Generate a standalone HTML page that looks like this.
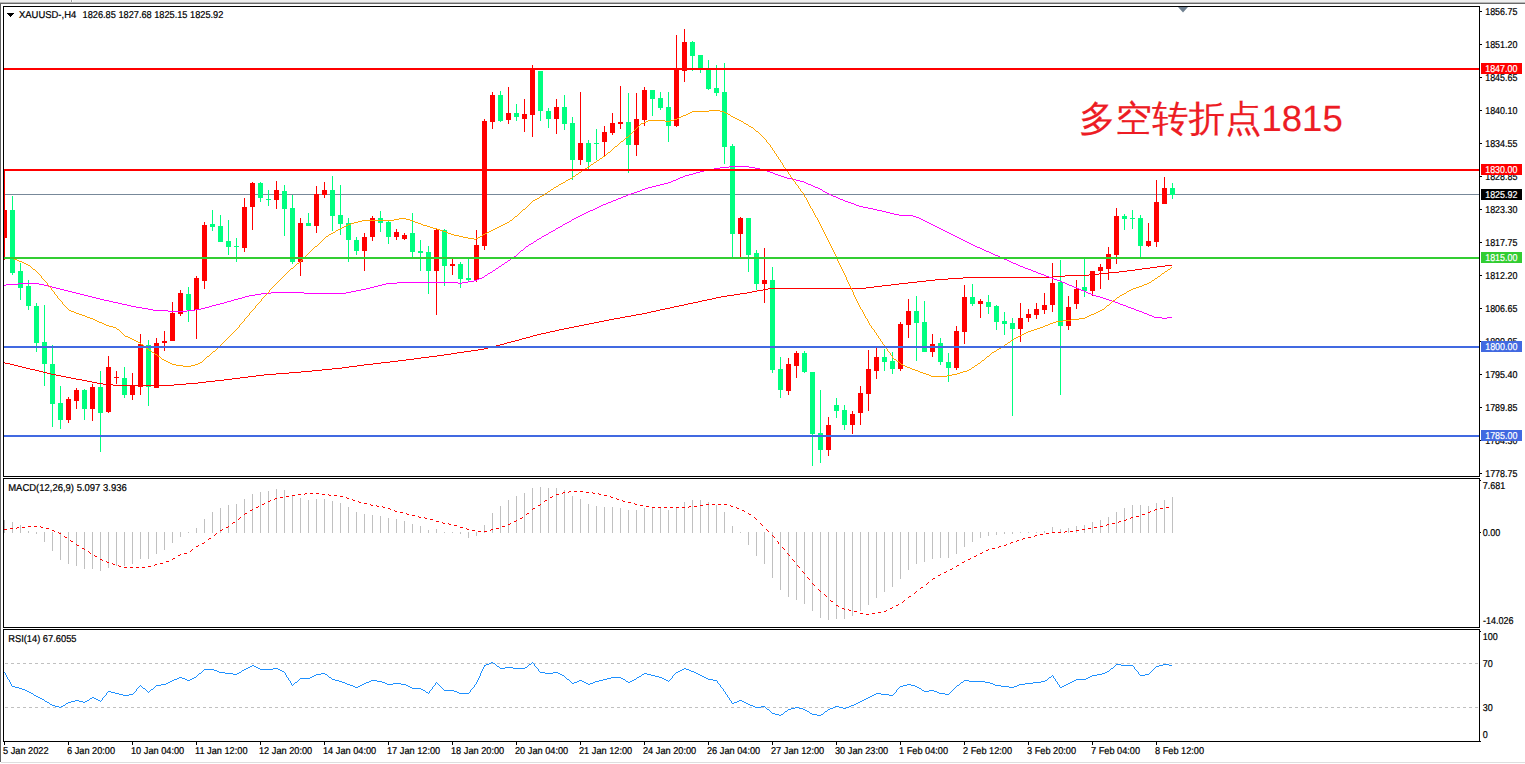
<!DOCTYPE html>
<html><head><meta charset="utf-8"><title>XAUUSD H4</title>
<style>
html,body{margin:0;padding:0;background:#fff;}
body{width:1525px;height:764px;overflow:hidden;font-family:"Liberation Sans",sans-serif;}
svg{display:block;font-family:"Liberation Sans",sans-serif;}
text{font-family:"Liberation Sans",sans-serif;}
</style></head><body>
<svg width="1525" height="764" viewBox="0 0 1525 764" shape-rendering="crispEdges">
<rect x="0" y="0" width="1525" height="764" fill="#fff"/>
<rect x="0" y="0" width="1525" height="2" fill="#f0f0f0"/>
<rect x="0" y="2" width="1525" height="1" fill="#b8b8b8"/>
<rect x="0" y="3" width="1525" height="1" fill="#696969"/>
<rect x="71" y="0" width="1" height="2" fill="#a0a0a0"/>
<rect x="72" y="0" width="1" height="2" fill="#ffffff"/>
<rect x="70" y="0" width="1" height="2" fill="#f8f8f8"/>
<rect x="0" y="4" width="1" height="758" fill="#626262"/>
<rect x="1" y="762" width="1525" height="1" fill="#dedede"/>
<rect x="4" y="194" width="1475" height="1" fill="#778899"/>
<g id="candles">
<rect x="4" y="171" width="1" height="89" fill="#ff0000"/>
<rect x="4" y="210" width="3" height="28" fill="#ff0000"/>
<rect x="12" y="196" width="1" height="79" fill="#00ff7f"/>
<rect x="10" y="210" width="5" height="63" fill="#00ff7f"/>
<rect x="20" y="263" width="1" height="37" fill="#00ff7f"/>
<rect x="18" y="271" width="5" height="17" fill="#00ff7f"/>
<rect x="28" y="280" width="1" height="30" fill="#00ff7f"/>
<rect x="26" y="286" width="5" height="20" fill="#00ff7f"/>
<rect x="36" y="303" width="1" height="49" fill="#00ff7f"/>
<rect x="34" y="306" width="5" height="37" fill="#00ff7f"/>
<rect x="44" y="305" width="1" height="81" fill="#00ff7f"/>
<rect x="42" y="342" width="5" height="22" fill="#00ff7f"/>
<rect x="52" y="345" width="1" height="82" fill="#00ff7f"/>
<rect x="50" y="364" width="5" height="40" fill="#00ff7f"/>
<rect x="60" y="386" width="1" height="43" fill="#00ff7f"/>
<rect x="58" y="403" width="5" height="17" fill="#00ff7f"/>
<rect x="68" y="397" width="1" height="26" fill="#ff0000"/>
<rect x="66" y="399" width="5" height="21" fill="#ff0000"/>
<rect x="76" y="388" width="1" height="21" fill="#ff0000"/>
<rect x="74" y="390" width="5" height="11" fill="#ff0000"/>
<rect x="84" y="389" width="1" height="31" fill="#00ff7f"/>
<rect x="82" y="390" width="5" height="19" fill="#00ff7f"/>
<rect x="92" y="384" width="1" height="37" fill="#ff0000"/>
<rect x="90" y="387" width="5" height="22" fill="#ff0000"/>
<rect x="100" y="371" width="1" height="81" fill="#00ff7f"/>
<rect x="98" y="387" width="5" height="26" fill="#00ff7f"/>
<rect x="108" y="356" width="1" height="57" fill="#ff0000"/>
<rect x="106" y="367" width="5" height="45" fill="#ff0000"/>
<rect x="116" y="371" width="1" height="13" fill="#ff0000"/>
<rect x="114" y="377" width="5" height="1" fill="#ff0000"/>
<rect x="124" y="367" width="1" height="31" fill="#00ff7f"/>
<rect x="122" y="378" width="5" height="17" fill="#00ff7f"/>
<rect x="132" y="373" width="1" height="27" fill="#ff0000"/>
<rect x="130" y="386" width="5" height="9" fill="#ff0000"/>
<rect x="140" y="334" width="1" height="61" fill="#ff0000"/>
<rect x="138" y="344" width="5" height="43" fill="#ff0000"/>
<rect x="148" y="340" width="1" height="66" fill="#00ff7f"/>
<rect x="146" y="345" width="5" height="42" fill="#00ff7f"/>
<rect x="156" y="338" width="1" height="50" fill="#ff0000"/>
<rect x="154" y="343" width="5" height="45" fill="#ff0000"/>
<rect x="164" y="331" width="1" height="20" fill="#ff0000"/>
<rect x="162" y="341" width="5" height="2" fill="#ff0000"/>
<rect x="172" y="302" width="1" height="39" fill="#ff0000"/>
<rect x="170" y="313" width="5" height="28" fill="#ff0000"/>
<rect x="180" y="290" width="1" height="26" fill="#ff0000"/>
<rect x="178" y="293" width="5" height="21" fill="#ff0000"/>
<rect x="188" y="287" width="1" height="35" fill="#00ff7f"/>
<rect x="186" y="294" width="5" height="16" fill="#00ff7f"/>
<rect x="196" y="276" width="1" height="63" fill="#ff0000"/>
<rect x="194" y="278" width="5" height="32" fill="#ff0000"/>
<rect x="204" y="222" width="1" height="67" fill="#ff0000"/>
<rect x="202" y="225" width="5" height="56" fill="#ff0000"/>
<rect x="212" y="210" width="1" height="21" fill="#00ff7f"/>
<rect x="210" y="224" width="5" height="3" fill="#00ff7f"/>
<rect x="220" y="215" width="1" height="27" fill="#00ff7f"/>
<rect x="218" y="226" width="5" height="16" fill="#00ff7f"/>
<rect x="228" y="220" width="1" height="35" fill="#00ff7f"/>
<rect x="226" y="241" width="5" height="6" fill="#00ff7f"/>
<rect x="236" y="238" width="1" height="24" fill="#00ff7f"/>
<rect x="234" y="246" width="5" height="1" fill="#00ff7f"/>
<rect x="244" y="198" width="1" height="54" fill="#ff0000"/>
<rect x="242" y="207" width="5" height="41" fill="#ff0000"/>
<rect x="252" y="182" width="1" height="48" fill="#ff0000"/>
<rect x="250" y="183" width="5" height="24" fill="#ff0000"/>
<rect x="260" y="182" width="1" height="20" fill="#00ff7f"/>
<rect x="258" y="183" width="5" height="15" fill="#00ff7f"/>
<rect x="268" y="190" width="1" height="16" fill="#00ff7f"/>
<rect x="266" y="199" width="5" height="1" fill="#00ff7f"/>
<rect x="276" y="181" width="1" height="28" fill="#ff0000"/>
<rect x="274" y="190" width="5" height="10" fill="#ff0000"/>
<rect x="284" y="185" width="1" height="51" fill="#00ff7f"/>
<rect x="282" y="191" width="5" height="18" fill="#00ff7f"/>
<rect x="292" y="195" width="1" height="69" fill="#00ff7f"/>
<rect x="290" y="208" width="5" height="54" fill="#00ff7f"/>
<rect x="300" y="218" width="1" height="58" fill="#ff0000"/>
<rect x="298" y="223" width="5" height="39" fill="#ff0000"/>
<rect x="308" y="213" width="1" height="13" fill="#00ff7f"/>
<rect x="306" y="223" width="5" height="3" fill="#00ff7f"/>
<rect x="316" y="186" width="1" height="47" fill="#ff0000"/>
<rect x="314" y="194" width="5" height="32" fill="#ff0000"/>
<rect x="324" y="182" width="1" height="16" fill="#ff0000"/>
<rect x="322" y="190" width="5" height="5" fill="#ff0000"/>
<rect x="332" y="176" width="1" height="55" fill="#00ff7f"/>
<rect x="330" y="190" width="5" height="26" fill="#00ff7f"/>
<rect x="340" y="185" width="1" height="50" fill="#00ff7f"/>
<rect x="338" y="215" width="5" height="9" fill="#00ff7f"/>
<rect x="348" y="218" width="1" height="44" fill="#00ff7f"/>
<rect x="346" y="223" width="5" height="17" fill="#00ff7f"/>
<rect x="356" y="237" width="1" height="18" fill="#00ff7f"/>
<rect x="354" y="240" width="5" height="11" fill="#00ff7f"/>
<rect x="364" y="233" width="1" height="38" fill="#ff0000"/>
<rect x="362" y="237" width="5" height="14" fill="#ff0000"/>
<rect x="372" y="216" width="1" height="25" fill="#ff0000"/>
<rect x="370" y="218" width="5" height="19" fill="#ff0000"/>
<rect x="380" y="211" width="1" height="21" fill="#00ff7f"/>
<rect x="378" y="218" width="5" height="5" fill="#00ff7f"/>
<rect x="388" y="221" width="1" height="23" fill="#00ff7f"/>
<rect x="386" y="222" width="5" height="15" fill="#00ff7f"/>
<rect x="396" y="229" width="1" height="11" fill="#ff0000"/>
<rect x="394" y="232" width="5" height="5" fill="#ff0000"/>
<rect x="404" y="233" width="1" height="7" fill="#ff0000"/>
<rect x="402" y="235" width="5" height="4" fill="#ff0000"/>
<rect x="412" y="213" width="1" height="44" fill="#00ff7f"/>
<rect x="410" y="233" width="5" height="19" fill="#00ff7f"/>
<rect x="420" y="240" width="1" height="31" fill="#00ff7f"/>
<rect x="418" y="251" width="5" height="2" fill="#00ff7f"/>
<rect x="428" y="246" width="1" height="48" fill="#00ff7f"/>
<rect x="426" y="252" width="5" height="19" fill="#00ff7f"/>
<rect x="436" y="229" width="1" height="86" fill="#ff0000"/>
<rect x="434" y="230" width="5" height="41" fill="#ff0000"/>
<rect x="444" y="229" width="1" height="57" fill="#00ff7f"/>
<rect x="442" y="230" width="5" height="36" fill="#00ff7f"/>
<rect x="452" y="259" width="1" height="16" fill="#ff0000"/>
<rect x="450" y="264" width="5" height="2" fill="#ff0000"/>
<rect x="460" y="262" width="1" height="26" fill="#00ff7f"/>
<rect x="458" y="264" width="5" height="15" fill="#00ff7f"/>
<rect x="468" y="259" width="1" height="23" fill="#00ff7f"/>
<rect x="466" y="278" width="5" height="2" fill="#00ff7f"/>
<rect x="476" y="230" width="1" height="52" fill="#ff0000"/>
<rect x="474" y="245" width="5" height="35" fill="#ff0000"/>
<rect x="484" y="119" width="1" height="131" fill="#ff0000"/>
<rect x="482" y="121" width="5" height="125" fill="#ff0000"/>
<rect x="492" y="92" width="1" height="37" fill="#ff0000"/>
<rect x="490" y="95" width="5" height="27" fill="#ff0000"/>
<rect x="500" y="91" width="1" height="31" fill="#00ff7f"/>
<rect x="498" y="95" width="5" height="26" fill="#00ff7f"/>
<rect x="508" y="87" width="1" height="37" fill="#ff0000"/>
<rect x="506" y="113" width="5" height="7" fill="#ff0000"/>
<rect x="516" y="104" width="1" height="17" fill="#00ff7f"/>
<rect x="514" y="113" width="5" height="4" fill="#00ff7f"/>
<rect x="524" y="99" width="1" height="33" fill="#ff0000"/>
<rect x="522" y="114" width="5" height="5" fill="#ff0000"/>
<rect x="532" y="65" width="1" height="72" fill="#ff0000"/>
<rect x="530" y="69" width="5" height="46" fill="#ff0000"/>
<rect x="540" y="71" width="1" height="50" fill="#00ff7f"/>
<rect x="538" y="71" width="5" height="40" fill="#00ff7f"/>
<rect x="548" y="108" width="1" height="20" fill="#00ff7f"/>
<rect x="546" y="111" width="5" height="8" fill="#00ff7f"/>
<rect x="556" y="99" width="1" height="35" fill="#ff0000"/>
<rect x="554" y="107" width="5" height="12" fill="#ff0000"/>
<rect x="564" y="95" width="1" height="35" fill="#00ff7f"/>
<rect x="562" y="107" width="5" height="17" fill="#00ff7f"/>
<rect x="572" y="117" width="1" height="63" fill="#00ff7f"/>
<rect x="570" y="123" width="5" height="37" fill="#00ff7f"/>
<rect x="580" y="92" width="1" height="73" fill="#ff0000"/>
<rect x="578" y="143" width="5" height="17" fill="#ff0000"/>
<rect x="588" y="140" width="1" height="29" fill="#00ff7f"/>
<rect x="586" y="143" width="5" height="19" fill="#00ff7f"/>
<rect x="596" y="129" width="1" height="31" fill="#00ff7f"/>
<rect x="594" y="143" width="5" height="1" fill="#00ff7f"/>
<rect x="604" y="126" width="1" height="30" fill="#ff0000"/>
<rect x="602" y="132" width="5" height="10" fill="#ff0000"/>
<rect x="612" y="113" width="1" height="22" fill="#ff0000"/>
<rect x="610" y="123" width="5" height="10" fill="#ff0000"/>
<rect x="620" y="86" width="1" height="43" fill="#ff0000"/>
<rect x="618" y="122" width="5" height="2" fill="#ff0000"/>
<rect x="628" y="93" width="1" height="80" fill="#00ff7f"/>
<rect x="626" y="122" width="5" height="23" fill="#00ff7f"/>
<rect x="636" y="93" width="1" height="63" fill="#ff0000"/>
<rect x="634" y="119" width="5" height="26" fill="#ff0000"/>
<rect x="644" y="87" width="1" height="39" fill="#ff0000"/>
<rect x="642" y="90" width="5" height="30" fill="#ff0000"/>
<rect x="652" y="90" width="1" height="26" fill="#00ff7f"/>
<rect x="650" y="90" width="5" height="9" fill="#00ff7f"/>
<rect x="660" y="92" width="1" height="18" fill="#00ff7f"/>
<rect x="658" y="98" width="5" height="10" fill="#00ff7f"/>
<rect x="668" y="92" width="1" height="50" fill="#00ff7f"/>
<rect x="666" y="107" width="5" height="19" fill="#00ff7f"/>
<rect x="676" y="35" width="1" height="92" fill="#ff0000"/>
<rect x="674" y="68" width="5" height="58" fill="#ff0000"/>
<rect x="684" y="29" width="1" height="53" fill="#ff0000"/>
<rect x="682" y="42" width="5" height="29" fill="#ff0000"/>
<rect x="692" y="41" width="1" height="30" fill="#00ff7f"/>
<rect x="690" y="42" width="5" height="14" fill="#00ff7f"/>
<rect x="700" y="55" width="1" height="18" fill="#00ff7f"/>
<rect x="698" y="55" width="5" height="15" fill="#00ff7f"/>
<rect x="708" y="60" width="1" height="30" fill="#00ff7f"/>
<rect x="706" y="70" width="5" height="19" fill="#00ff7f"/>
<rect x="716" y="65" width="1" height="31" fill="#00ff7f"/>
<rect x="714" y="88" width="5" height="5" fill="#00ff7f"/>
<rect x="724" y="63" width="1" height="101" fill="#00ff7f"/>
<rect x="722" y="92" width="5" height="55" fill="#00ff7f"/>
<rect x="732" y="144" width="1" height="113" fill="#00ff7f"/>
<rect x="730" y="146" width="5" height="88" fill="#00ff7f"/>
<rect x="740" y="217" width="1" height="40" fill="#ff0000"/>
<rect x="738" y="218" width="5" height="16" fill="#ff0000"/>
<rect x="748" y="218" width="1" height="54" fill="#00ff7f"/>
<rect x="746" y="218" width="5" height="37" fill="#00ff7f"/>
<rect x="756" y="250" width="1" height="40" fill="#00ff7f"/>
<rect x="754" y="253" width="5" height="31" fill="#00ff7f"/>
<rect x="764" y="248" width="1" height="55" fill="#ff0000"/>
<rect x="762" y="280" width="5" height="4" fill="#ff0000"/>
<rect x="772" y="267" width="1" height="106" fill="#00ff7f"/>
<rect x="770" y="280" width="5" height="90" fill="#00ff7f"/>
<rect x="780" y="357" width="1" height="41" fill="#00ff7f"/>
<rect x="778" y="369" width="5" height="21" fill="#00ff7f"/>
<rect x="788" y="358" width="1" height="37" fill="#ff0000"/>
<rect x="786" y="364" width="5" height="27" fill="#ff0000"/>
<rect x="796" y="351" width="1" height="27" fill="#ff0000"/>
<rect x="794" y="353" width="5" height="13" fill="#ff0000"/>
<rect x="804" y="351" width="1" height="22" fill="#00ff7f"/>
<rect x="802" y="353" width="5" height="19" fill="#00ff7f"/>
<rect x="812" y="372" width="1" height="94" fill="#00ff7f"/>
<rect x="810" y="372" width="5" height="62" fill="#00ff7f"/>
<rect x="820" y="390" width="1" height="73" fill="#00ff7f"/>
<rect x="818" y="433" width="5" height="17" fill="#00ff7f"/>
<rect x="828" y="417" width="1" height="39" fill="#ff0000"/>
<rect x="826" y="425" width="5" height="25" fill="#ff0000"/>
<rect x="836" y="398" width="1" height="20" fill="#00ff7f"/>
<rect x="834" y="405" width="5" height="6" fill="#00ff7f"/>
<rect x="844" y="405" width="1" height="25" fill="#00ff7f"/>
<rect x="842" y="410" width="5" height="15" fill="#00ff7f"/>
<rect x="852" y="411" width="1" height="23" fill="#ff0000"/>
<rect x="850" y="414" width="5" height="11" fill="#ff0000"/>
<rect x="860" y="386" width="1" height="39" fill="#ff0000"/>
<rect x="858" y="393" width="5" height="20" fill="#ff0000"/>
<rect x="868" y="350" width="1" height="61" fill="#ff0000"/>
<rect x="866" y="369" width="5" height="25" fill="#ff0000"/>
<rect x="876" y="348" width="1" height="31" fill="#ff0000"/>
<rect x="874" y="357" width="5" height="14" fill="#ff0000"/>
<rect x="884" y="349" width="1" height="22" fill="#00ff7f"/>
<rect x="882" y="357" width="5" height="5" fill="#00ff7f"/>
<rect x="892" y="352" width="1" height="22" fill="#00ff7f"/>
<rect x="890" y="361" width="5" height="8" fill="#00ff7f"/>
<rect x="900" y="322" width="1" height="49" fill="#ff0000"/>
<rect x="898" y="324" width="5" height="45" fill="#ff0000"/>
<rect x="908" y="299" width="1" height="39" fill="#ff0000"/>
<rect x="906" y="311" width="5" height="14" fill="#ff0000"/>
<rect x="916" y="296" width="1" height="65" fill="#00ff7f"/>
<rect x="914" y="311" width="5" height="12" fill="#00ff7f"/>
<rect x="924" y="301" width="1" height="51" fill="#00ff7f"/>
<rect x="922" y="322" width="5" height="30" fill="#00ff7f"/>
<rect x="932" y="334" width="1" height="23" fill="#ff0000"/>
<rect x="930" y="344" width="5" height="8" fill="#ff0000"/>
<rect x="940" y="338" width="1" height="27" fill="#00ff7f"/>
<rect x="938" y="343" width="5" height="19" fill="#00ff7f"/>
<rect x="948" y="353" width="1" height="29" fill="#00ff7f"/>
<rect x="946" y="362" width="5" height="6" fill="#00ff7f"/>
<rect x="956" y="326" width="1" height="44" fill="#ff0000"/>
<rect x="954" y="331" width="5" height="37" fill="#ff0000"/>
<rect x="964" y="285" width="1" height="59" fill="#ff0000"/>
<rect x="962" y="297" width="5" height="35" fill="#ff0000"/>
<rect x="972" y="284" width="1" height="22" fill="#00ff7f"/>
<rect x="970" y="297" width="5" height="7" fill="#00ff7f"/>
<rect x="980" y="299" width="1" height="19" fill="#ff0000"/>
<rect x="978" y="301" width="5" height="3" fill="#ff0000"/>
<rect x="988" y="295" width="1" height="19" fill="#00ff7f"/>
<rect x="986" y="302" width="5" height="5" fill="#00ff7f"/>
<rect x="996" y="305" width="1" height="25" fill="#00ff7f"/>
<rect x="994" y="306" width="5" height="16" fill="#00ff7f"/>
<rect x="1004" y="312" width="1" height="23" fill="#00ff7f"/>
<rect x="1002" y="321" width="5" height="3" fill="#00ff7f"/>
<rect x="1012" y="318" width="1" height="98" fill="#00ff7f"/>
<rect x="1010" y="323" width="5" height="6" fill="#00ff7f"/>
<rect x="1020" y="303" width="1" height="39" fill="#ff0000"/>
<rect x="1018" y="318" width="5" height="11" fill="#ff0000"/>
<rect x="1028" y="309" width="1" height="13" fill="#ff0000"/>
<rect x="1026" y="314" width="5" height="4" fill="#ff0000"/>
<rect x="1036" y="303" width="1" height="16" fill="#ff0000"/>
<rect x="1034" y="309" width="5" height="6" fill="#ff0000"/>
<rect x="1044" y="293" width="1" height="21" fill="#ff0000"/>
<rect x="1042" y="305" width="5" height="5" fill="#ff0000"/>
<rect x="1052" y="263" width="1" height="49" fill="#ff0000"/>
<rect x="1050" y="283" width="5" height="22" fill="#ff0000"/>
<rect x="1060" y="260" width="1" height="135" fill="#00ff7f"/>
<rect x="1058" y="282" width="5" height="44" fill="#00ff7f"/>
<rect x="1068" y="296" width="1" height="34" fill="#ff0000"/>
<rect x="1066" y="307" width="5" height="19" fill="#ff0000"/>
<rect x="1076" y="280" width="1" height="29" fill="#ff0000"/>
<rect x="1074" y="289" width="5" height="15" fill="#ff0000"/>
<rect x="1084" y="259" width="1" height="38" fill="#00ff7f"/>
<rect x="1082" y="287" width="5" height="4" fill="#00ff7f"/>
<rect x="1092" y="271" width="1" height="25" fill="#ff0000"/>
<rect x="1090" y="271" width="5" height="20" fill="#ff0000"/>
<rect x="1100" y="264" width="1" height="25" fill="#ff0000"/>
<rect x="1098" y="267" width="5" height="4" fill="#ff0000"/>
<rect x="1108" y="247" width="1" height="33" fill="#ff0000"/>
<rect x="1106" y="254" width="5" height="15" fill="#ff0000"/>
<rect x="1116" y="208" width="1" height="56" fill="#ff0000"/>
<rect x="1114" y="216" width="5" height="39" fill="#ff0000"/>
<rect x="1124" y="214" width="1" height="16" fill="#00ff7f"/>
<rect x="1122" y="216" width="5" height="3" fill="#00ff7f"/>
<rect x="1132" y="210" width="1" height="19" fill="#00ff7f"/>
<rect x="1130" y="218" width="5" height="1" fill="#00ff7f"/>
<rect x="1140" y="215" width="1" height="42" fill="#00ff7f"/>
<rect x="1138" y="218" width="5" height="28" fill="#00ff7f"/>
<rect x="1148" y="223" width="1" height="24" fill="#ff0000"/>
<rect x="1146" y="241" width="5" height="5" fill="#ff0000"/>
<rect x="1156" y="180" width="1" height="67" fill="#ff0000"/>
<rect x="1154" y="202" width="5" height="40" fill="#ff0000"/>
<rect x="1164" y="177" width="1" height="27" fill="#ff0000"/>
<rect x="1162" y="188" width="5" height="16" fill="#ff0000"/>
<rect x="1172" y="183" width="1" height="16" fill="#00ff7f"/>
<rect x="1170" y="188" width="5" height="7" fill="#00ff7f"/>
</g>
<path d="M4 362h1v1h-1zM5 363h1v1h-1zM6 363h1v1h-1zM7 363h1v1h-1zM8 363h1v1h-1zM9 363h1v1h-1zM10 364h1v1h-1zM11 364h1v1h-1zM12 364h1v1h-1zM13 364h1v1h-1zM14 365h1v1h-1zM15 365h1v1h-1zM16 365h1v1h-1zM17 365h1v1h-1zM18 366h1v1h-1zM19 366h1v1h-1zM20 366h1v1h-1zM21 366h1v1h-1zM22 367h1v1h-1zM23 367h1v1h-1zM24 367h1v1h-1zM25 367h1v1h-1zM26 368h1v1h-1zM27 368h1v1h-1zM28 368h1v1h-1zM29 368h1v1h-1zM30 369h1v1h-1zM31 369h1v1h-1zM32 369h1v1h-1zM33 369h1v1h-1zM34 369h1v1h-1zM35 370h1v1h-1zM36 370h1v1h-1zM37 370h1v1h-1zM38 370h1v1h-1zM39 371h1v1h-1zM40 371h1v1h-1zM41 371h1v1h-1zM42 371h1v1h-1zM43 372h1v1h-1zM44 372h1v1h-1zM45 372h1v1h-1zM46 372h1v1h-1zM47 373h1v1h-1zM48 373h1v1h-1zM49 373h1v1h-1zM50 373h1v1h-1zM51 374h1v1h-1zM52 374h1v1h-1zM53 374h1v1h-1zM54 374h1v1h-1zM55 374h1v1h-1zM56 375h1v1h-1zM57 375h1v1h-1zM58 375h1v1h-1zM59 375h1v1h-1zM60 375h1v1h-1zM61 376h1v1h-1zM62 376h1v1h-1zM63 376h1v1h-1zM64 376h1v1h-1zM65 376h1v1h-1zM66 377h1v1h-1zM67 377h1v1h-1zM68 377h1v1h-1zM69 377h1v1h-1zM70 377h1v1h-1zM71 378h1v1h-1zM72 378h1v1h-1zM73 378h1v1h-1zM74 378h1v1h-1zM75 378h1v1h-1zM76 379h1v1h-1zM77 379h1v1h-1zM78 379h1v1h-1zM79 379h1v1h-1zM80 379h1v1h-1zM81 379h1v1h-1zM82 380h1v1h-1zM83 380h1v1h-1zM84 380h1v1h-1zM85 380h1v1h-1zM86 380h1v1h-1zM87 381h1v1h-1zM88 381h1v1h-1zM89 381h1v1h-1zM90 381h1v1h-1zM91 381h1v1h-1zM92 382h1v1h-1zM93 382h1v1h-1zM94 382h1v1h-1zM95 382h1v1h-1zM96 382h1v1h-1zM97 383h1v1h-1zM98 383h1v1h-1zM99 383h1v1h-1zM100 383h1v1h-1zM101 383h1v1h-1zM102 383h1v1h-1zM103 384h1v1h-1zM104 384h1v1h-1zM105 384h1v1h-1zM106 384h1v1h-1zM107 384h1v1h-1zM108 384h1v1h-1zM109 384h1v1h-1zM110 384h1v1h-1zM111 384h1v1h-1zM112 384h1v1h-1zM113 385h1v1h-1zM114 385h1v1h-1zM115 385h1v1h-1zM116 385h1v1h-1zM117 385h1v1h-1zM118 385h1v1h-1zM119 385h1v1h-1zM120 385h1v1h-1zM121 385h1v1h-1zM122 385h1v1h-1zM123 385h1v1h-1zM124 385h1v1h-1zM125 385h1v1h-1zM126 385h1v1h-1zM127 385h1v1h-1zM128 385h1v1h-1zM129 385h1v1h-1zM130 385h1v1h-1zM131 385h1v1h-1zM132 385h1v1h-1zM133 385h1v1h-1zM134 385h1v1h-1zM135 385h1v1h-1zM136 385h1v1h-1zM137 385h1v1h-1zM138 385h1v1h-1zM139 385h1v1h-1zM140 385h1v1h-1zM141 385h1v1h-1zM142 385h1v1h-1zM143 385h1v1h-1zM144 385h1v1h-1zM145 385h1v1h-1zM146 385h1v1h-1zM147 385h1v1h-1zM148 385h1v1h-1zM149 385h1v1h-1zM150 385h1v1h-1zM151 385h1v1h-1zM152 385h1v1h-1zM153 385h1v1h-1zM154 385h1v1h-1zM155 385h1v1h-1zM156 385h1v1h-1zM157 385h1v1h-1zM158 385h1v1h-1zM159 385h1v1h-1zM160 385h1v1h-1zM161 385h1v1h-1zM162 385h1v1h-1zM163 385h1v1h-1zM164 385h1v1h-1zM165 385h1v1h-1zM166 385h1v1h-1zM167 385h1v1h-1zM168 385h1v1h-1zM169 385h1v1h-1zM170 385h1v1h-1zM171 385h1v1h-1zM172 385h1v1h-1zM173 385h1v1h-1zM174 384h1v1h-1zM175 384h1v1h-1zM176 384h1v1h-1zM177 384h1v1h-1zM178 384h1v1h-1zM179 384h1v1h-1zM180 384h1v1h-1zM181 384h1v1h-1zM182 384h1v1h-1zM183 384h1v1h-1zM184 384h1v1h-1zM185 384h1v1h-1zM186 383h1v1h-1zM187 383h1v1h-1zM188 383h1v1h-1zM189 383h1v1h-1zM190 383h1v1h-1zM191 383h1v1h-1zM192 383h1v1h-1zM193 383h1v1h-1zM194 383h1v1h-1zM195 383h1v1h-1zM196 383h1v1h-1zM197 383h1v1h-1zM198 382h1v1h-1zM199 382h1v1h-1zM200 382h1v1h-1zM201 382h1v1h-1zM202 382h1v1h-1zM203 382h1v1h-1zM204 382h1v1h-1zM205 382h1v1h-1zM206 381h1v1h-1zM207 381h1v1h-1zM208 381h1v1h-1zM209 381h1v1h-1zM210 381h1v1h-1zM211 381h1v1h-1zM212 381h1v1h-1zM213 381h1v1h-1zM214 381h1v1h-1zM215 380h1v1h-1zM216 380h1v1h-1zM217 380h1v1h-1zM218 380h1v1h-1zM219 380h1v1h-1zM220 380h1v1h-1zM221 380h1v1h-1zM222 380h1v1h-1zM223 380h1v1h-1zM224 379h1v1h-1zM225 379h1v1h-1zM226 379h1v1h-1zM227 379h1v1h-1zM228 379h1v1h-1zM229 379h1v1h-1zM230 379h1v1h-1zM231 379h1v1h-1zM232 378h1v1h-1zM233 378h1v1h-1zM234 378h1v1h-1zM235 378h1v1h-1zM236 378h1v1h-1zM237 378h1v1h-1zM238 378h1v1h-1zM239 378h1v1h-1zM240 377h1v1h-1zM241 377h1v1h-1zM242 377h1v1h-1zM243 377h1v1h-1zM244 377h1v1h-1zM245 377h1v1h-1zM246 377h1v1h-1zM247 377h1v1h-1zM248 376h1v1h-1zM249 376h1v1h-1zM250 376h1v1h-1zM251 376h1v1h-1zM252 376h1v1h-1zM253 376h1v1h-1zM254 376h1v1h-1zM255 376h1v1h-1zM256 375h1v1h-1zM257 375h1v1h-1zM258 375h1v1h-1zM259 375h1v1h-1zM260 375h1v1h-1zM261 375h1v1h-1zM262 375h1v1h-1zM263 375h1v1h-1zM264 374h1v1h-1zM265 374h1v1h-1zM266 374h1v1h-1zM267 374h1v1h-1zM268 374h1v1h-1zM269 374h1v1h-1zM270 374h1v1h-1zM271 374h1v1h-1zM272 374h1v1h-1zM273 374h1v1h-1zM274 374h1v1h-1zM275 374h1v1h-1zM276 373h1v1h-1zM277 373h1v1h-1zM278 373h1v1h-1zM279 373h1v1h-1zM280 373h1v1h-1zM281 373h1v1h-1zM282 373h1v1h-1zM283 373h1v1h-1zM284 373h1v1h-1zM285 373h1v1h-1zM286 373h1v1h-1zM287 373h1v1h-1zM288 373h1v1h-1zM289 372h1v1h-1zM290 372h1v1h-1zM291 372h1v1h-1zM292 372h1v1h-1zM293 372h1v1h-1zM294 372h1v1h-1zM295 372h1v1h-1zM296 372h1v1h-1zM297 372h1v1h-1zM298 372h1v1h-1zM299 372h1v1h-1zM300 372h1v1h-1zM301 371h1v1h-1zM302 371h1v1h-1zM303 371h1v1h-1zM304 371h1v1h-1zM305 371h1v1h-1zM306 371h1v1h-1zM307 371h1v1h-1zM308 371h1v1h-1zM309 371h1v1h-1zM310 371h1v1h-1zM311 371h1v1h-1zM312 370h1v1h-1zM313 370h1v1h-1zM314 370h1v1h-1zM315 370h1v1h-1zM316 370h1v1h-1zM317 370h1v1h-1zM318 370h1v1h-1zM319 370h1v1h-1zM320 370h1v1h-1zM321 370h1v1h-1zM322 369h1v1h-1zM323 369h1v1h-1zM324 369h1v1h-1zM325 369h1v1h-1zM326 369h1v1h-1zM327 369h1v1h-1zM328 369h1v1h-1zM329 369h1v1h-1zM330 369h1v1h-1zM331 369h1v1h-1zM332 368h1v1h-1zM333 368h1v1h-1zM334 368h1v1h-1zM335 368h1v1h-1zM336 368h1v1h-1zM337 368h1v1h-1zM338 368h1v1h-1zM339 368h1v1h-1zM340 368h1v1h-1zM341 368h1v1h-1zM342 367h1v1h-1zM343 367h1v1h-1zM344 367h1v1h-1zM345 367h1v1h-1zM346 367h1v1h-1zM347 367h1v1h-1zM348 367h1v1h-1zM349 366h1v1h-1zM350 366h1v1h-1zM351 366h1v1h-1zM352 366h1v1h-1zM353 366h1v1h-1zM354 366h1v1h-1zM355 366h1v1h-1zM356 366h1v1h-1zM357 365h1v1h-1zM358 365h1v1h-1zM359 365h1v1h-1zM360 365h1v1h-1zM361 365h1v1h-1zM362 365h1v1h-1zM363 365h1v1h-1zM364 364h1v1h-1zM365 364h1v1h-1zM366 364h1v1h-1zM367 364h1v1h-1zM368 364h1v1h-1zM369 364h1v1h-1zM370 364h1v1h-1zM371 364h1v1h-1zM372 364h1v1h-1zM373 363h1v1h-1zM374 363h1v1h-1zM375 363h1v1h-1zM376 363h1v1h-1zM377 363h1v1h-1zM378 363h1v1h-1zM379 363h1v1h-1zM380 363h1v1h-1zM381 362h1v1h-1zM382 362h1v1h-1zM383 362h1v1h-1zM384 362h1v1h-1zM385 362h1v1h-1zM386 362h1v1h-1zM387 362h1v1h-1zM388 362h1v1h-1zM389 362h1v1h-1zM390 361h1v1h-1zM391 361h1v1h-1zM392 361h1v1h-1zM393 361h1v1h-1zM394 361h1v1h-1zM395 361h1v1h-1zM396 361h1v1h-1zM397 361h1v1h-1zM398 360h1v1h-1zM399 360h1v1h-1zM400 360h1v1h-1zM401 360h1v1h-1zM402 360h1v1h-1zM403 360h1v1h-1zM404 360h1v1h-1zM405 360h1v1h-1zM406 359h1v1h-1zM407 359h1v1h-1zM408 359h1v1h-1zM409 359h1v1h-1zM410 359h1v1h-1zM411 359h1v1h-1zM412 359h1v1h-1zM413 359h1v1h-1zM414 358h1v1h-1zM415 358h1v1h-1zM416 358h1v1h-1zM417 358h1v1h-1zM418 358h1v1h-1zM419 358h1v1h-1zM420 358h1v1h-1zM421 357h1v1h-1zM422 357h1v1h-1zM423 357h1v1h-1zM424 357h1v1h-1zM425 357h1v1h-1zM426 357h1v1h-1zM427 357h1v1h-1zM428 357h1v1h-1zM429 356h1v1h-1zM430 356h1v1h-1zM431 356h1v1h-1zM432 356h1v1h-1zM433 356h1v1h-1zM434 356h1v1h-1zM435 356h1v1h-1zM436 356h1v1h-1zM437 355h1v1h-1zM438 355h1v1h-1zM439 355h1v1h-1zM440 355h1v1h-1zM441 355h1v1h-1zM442 355h1v1h-1zM443 355h1v1h-1zM444 354h1v1h-1zM445 354h1v1h-1zM446 354h1v1h-1zM447 354h1v1h-1zM448 354h1v1h-1zM449 354h1v1h-1zM450 354h1v1h-1zM451 353h1v1h-1zM452 353h1v1h-1zM453 353h1v1h-1zM454 353h1v1h-1zM455 353h1v1h-1zM456 353h1v1h-1zM457 352h1v1h-1zM458 352h1v1h-1zM459 352h1v1h-1zM460 352h1v1h-1zM461 352h1v1h-1zM462 352h1v1h-1zM463 352h1v1h-1zM464 351h1v1h-1zM465 351h1v1h-1zM466 351h1v1h-1zM467 351h1v1h-1zM468 351h1v1h-1zM469 351h1v1h-1zM470 351h1v1h-1zM471 350h1v1h-1zM472 350h1v1h-1zM473 350h1v1h-1zM474 350h1v1h-1zM475 350h1v1h-1zM476 350h1v1h-1zM477 350h1v1h-1zM478 349h1v1h-1zM479 349h1v1h-1zM480 349h1v1h-1zM481 349h1v1h-1zM482 349h1v1h-1zM483 349h1v1h-1zM484 348h1v1h-1zM485 348h1v1h-1zM486 348h1v1h-1zM487 348h1v1h-1zM488 347h1v1h-1zM489 347h1v1h-1zM490 347h1v1h-1zM491 347h1v1h-1zM492 346h1v1h-1zM493 346h1v1h-1zM494 346h1v1h-1zM495 346h1v1h-1zM496 345h1v1h-1zM497 345h1v1h-1zM498 345h1v1h-1zM499 345h1v1h-1zM500 344h1v1h-1zM501 344h1v1h-1zM502 344h1v1h-1zM503 344h1v1h-1zM504 343h1v1h-1zM505 343h1v1h-1zM506 343h1v1h-1zM507 342h1v1h-1zM508 342h1v1h-1zM509 342h1v1h-1zM510 342h1v1h-1zM511 341h1v1h-1zM512 341h1v1h-1zM513 341h1v1h-1zM514 341h1v1h-1zM515 340h1v1h-1zM516 340h1v1h-1zM517 340h1v1h-1zM518 340h1v1h-1zM519 339h1v1h-1zM520 339h1v1h-1zM521 339h1v1h-1zM522 338h1v1h-1zM523 338h1v1h-1zM524 338h1v1h-1zM525 338h1v1h-1zM526 337h1v1h-1zM527 337h1v1h-1zM528 337h1v1h-1zM529 337h1v1h-1zM530 336h1v1h-1zM531 336h1v1h-1zM532 336h1v1h-1zM533 335h1v1h-1zM534 335h1v1h-1zM535 335h1v1h-1zM536 335h1v1h-1zM537 334h1v1h-1zM538 334h1v1h-1zM539 334h1v1h-1zM540 334h1v1h-1zM541 333h1v1h-1zM542 333h1v1h-1zM543 333h1v1h-1zM544 333h1v1h-1zM545 333h1v1h-1zM546 332h1v1h-1zM547 332h1v1h-1zM548 332h1v1h-1zM549 332h1v1h-1zM550 331h1v1h-1zM551 331h1v1h-1zM552 331h1v1h-1zM553 331h1v1h-1zM554 331h1v1h-1zM555 330h1v1h-1zM556 330h1v1h-1zM557 330h1v1h-1zM558 330h1v1h-1zM559 329h1v1h-1zM560 329h1v1h-1zM561 329h1v1h-1zM562 329h1v1h-1zM563 329h1v1h-1zM564 328h1v1h-1zM565 328h1v1h-1zM566 328h1v1h-1zM567 328h1v1h-1zM568 328h1v1h-1zM569 327h1v1h-1zM570 327h1v1h-1zM571 327h1v1h-1zM572 327h1v1h-1zM573 327h1v1h-1zM574 326h1v1h-1zM575 326h1v1h-1zM576 326h1v1h-1zM577 326h1v1h-1zM578 326h1v1h-1zM579 325h1v1h-1zM580 325h1v1h-1zM581 325h1v1h-1zM582 325h1v1h-1zM583 325h1v1h-1zM584 324h1v1h-1zM585 324h1v1h-1zM586 324h1v1h-1zM587 324h1v1h-1zM588 324h1v1h-1zM589 323h1v1h-1zM590 323h1v1h-1zM591 323h1v1h-1zM592 323h1v1h-1zM593 323h1v1h-1zM594 322h1v1h-1zM595 322h1v1h-1zM596 322h1v1h-1zM597 322h1v1h-1zM598 322h1v1h-1zM599 321h1v1h-1zM600 321h1v1h-1zM601 321h1v1h-1zM602 321h1v1h-1zM603 321h1v1h-1zM604 320h1v1h-1zM605 320h1v1h-1zM606 320h1v1h-1zM607 320h1v1h-1zM608 320h1v1h-1zM609 319h1v1h-1zM610 319h1v1h-1zM611 319h1v1h-1zM612 319h1v1h-1zM613 319h1v1h-1zM614 318h1v1h-1zM615 318h1v1h-1zM616 318h1v1h-1zM617 318h1v1h-1zM618 318h1v1h-1zM619 318h1v1h-1zM620 317h1v1h-1zM621 317h1v1h-1zM622 317h1v1h-1zM623 317h1v1h-1zM624 317h1v1h-1zM625 316h1v1h-1zM626 316h1v1h-1zM627 316h1v1h-1zM628 316h1v1h-1zM629 316h1v1h-1zM630 316h1v1h-1zM631 315h1v1h-1zM632 315h1v1h-1zM633 315h1v1h-1zM634 315h1v1h-1zM635 315h1v1h-1zM636 314h1v1h-1zM637 314h1v1h-1zM638 314h1v1h-1zM639 314h1v1h-1zM640 314h1v1h-1zM641 314h1v1h-1zM642 313h1v1h-1zM643 313h1v1h-1zM644 313h1v1h-1zM645 313h1v1h-1zM646 313h1v1h-1zM647 312h1v1h-1zM648 312h1v1h-1zM649 312h1v1h-1zM650 312h1v1h-1zM651 311h1v1h-1zM652 311h1v1h-1zM653 311h1v1h-1zM654 311h1v1h-1zM655 311h1v1h-1zM656 310h1v1h-1zM657 310h1v1h-1zM658 310h1v1h-1zM659 310h1v1h-1zM660 309h1v1h-1zM661 309h1v1h-1zM662 309h1v1h-1zM663 309h1v1h-1zM664 309h1v1h-1zM665 308h1v1h-1zM666 308h1v1h-1zM667 308h1v1h-1zM668 308h1v1h-1zM669 308h1v1h-1zM670 307h1v1h-1zM671 307h1v1h-1zM672 307h1v1h-1zM673 307h1v1h-1zM674 306h1v1h-1zM675 306h1v1h-1zM676 306h1v1h-1zM677 306h1v1h-1zM678 306h1v1h-1zM679 305h1v1h-1zM680 305h1v1h-1zM681 305h1v1h-1zM682 305h1v1h-1zM683 305h1v1h-1zM684 304h1v1h-1zM685 304h1v1h-1zM686 304h1v1h-1zM687 304h1v1h-1zM688 303h1v1h-1zM689 303h1v1h-1zM690 303h1v1h-1zM691 303h1v1h-1zM692 303h1v1h-1zM693 302h1v1h-1zM694 302h1v1h-1zM695 302h1v1h-1zM696 302h1v1h-1zM697 302h1v1h-1zM698 301h1v1h-1zM699 301h1v1h-1zM700 301h1v1h-1zM701 301h1v1h-1zM702 300h1v1h-1zM703 300h1v1h-1zM704 300h1v1h-1zM705 300h1v1h-1zM706 300h1v1h-1zM707 299h1v1h-1zM708 299h1v1h-1zM709 299h1v1h-1zM710 299h1v1h-1zM711 299h1v1h-1zM712 298h1v1h-1zM713 298h1v1h-1zM714 298h1v1h-1zM715 298h1v1h-1zM716 297h1v1h-1zM717 297h1v1h-1zM718 297h1v1h-1zM719 297h1v1h-1zM720 297h1v1h-1zM721 296h1v1h-1zM722 296h1v1h-1zM723 296h1v1h-1zM724 296h1v1h-1zM725 296h1v1h-1zM726 296h1v1h-1zM727 295h1v1h-1zM728 295h1v1h-1zM729 295h1v1h-1zM730 295h1v1h-1zM731 295h1v1h-1zM732 295h1v1h-1zM733 295h1v1h-1zM734 294h1v1h-1zM735 294h1v1h-1zM736 294h1v1h-1zM737 294h1v1h-1zM738 294h1v1h-1zM739 294h1v1h-1zM740 293h1v1h-1zM741 293h1v1h-1zM742 293h1v1h-1zM743 293h1v1h-1zM744 293h1v1h-1zM745 293h1v1h-1zM746 293h1v1h-1zM747 292h1v1h-1zM748 292h1v1h-1zM749 292h1v1h-1zM750 292h1v1h-1zM751 292h1v1h-1zM752 291h1v1h-1zM753 291h1v1h-1zM754 291h1v1h-1zM755 291h1v1h-1zM756 291h1v1h-1zM757 290h1v1h-1zM758 290h1v1h-1zM759 290h1v1h-1zM760 290h1v1h-1zM761 290h1v1h-1zM762 290h1v1h-1zM763 289h1v1h-1zM764 289h1v1h-1zM765 289h1v1h-1zM766 289h1v1h-1zM767 289h1v1h-1zM768 288h1v1h-1zM769 288h1v1h-1zM770 288h1v1h-1zM771 288h1v1h-1zM772 288h1v1h-1zM773 288h1v1h-1zM774 288h1v1h-1zM775 288h1v1h-1zM776 288h1v1h-1zM777 288h1v1h-1zM778 288h1v1h-1zM779 288h1v1h-1zM780 288h1v1h-1zM781 288h1v1h-1zM782 288h1v1h-1zM783 288h1v1h-1zM784 288h1v1h-1zM785 288h1v1h-1zM786 288h1v1h-1zM787 288h1v1h-1zM788 288h1v1h-1zM789 288h1v1h-1zM790 288h1v1h-1zM791 288h1v1h-1zM792 288h1v1h-1zM793 288h1v1h-1zM794 288h1v1h-1zM795 288h1v1h-1zM796 288h1v1h-1zM797 288h1v1h-1zM798 288h1v1h-1zM799 288h1v1h-1zM800 288h1v1h-1zM801 288h1v1h-1zM802 288h1v1h-1zM803 288h1v1h-1zM804 288h1v1h-1zM805 288h1v1h-1zM806 288h1v1h-1zM807 288h1v1h-1zM808 288h1v1h-1zM809 288h1v1h-1zM810 288h1v1h-1zM811 288h1v1h-1zM812 288h1v1h-1zM813 288h1v1h-1zM814 288h1v1h-1zM815 288h1v1h-1zM816 288h1v1h-1zM817 288h1v1h-1zM818 288h1v1h-1zM819 288h1v1h-1zM820 288h1v1h-1zM821 288h1v1h-1zM822 288h1v1h-1zM823 288h1v1h-1zM824 288h1v1h-1zM825 288h1v1h-1zM826 288h1v1h-1zM827 288h1v1h-1zM828 288h1v1h-1zM829 288h1v1h-1zM830 288h1v1h-1zM831 288h1v1h-1zM832 288h1v1h-1zM833 288h1v1h-1zM834 288h1v1h-1zM835 288h1v1h-1zM836 288h1v1h-1zM837 288h1v1h-1zM838 288h1v1h-1zM839 288h1v1h-1zM840 288h1v1h-1zM841 288h1v1h-1zM842 288h1v1h-1zM843 288h1v1h-1zM844 288h1v1h-1zM845 288h1v1h-1zM846 288h1v1h-1zM847 288h1v1h-1zM848 288h1v1h-1zM849 288h1v1h-1zM850 288h1v1h-1zM851 288h1v1h-1zM852 288h1v1h-1zM853 288h1v1h-1zM854 288h1v1h-1zM855 288h1v1h-1zM856 288h1v1h-1zM857 288h1v1h-1zM858 288h1v1h-1zM859 288h1v1h-1zM860 288h1v1h-1zM861 288h1v1h-1zM862 288h1v1h-1zM863 288h1v1h-1zM864 288h1v1h-1zM865 288h1v1h-1zM866 287h1v1h-1zM867 287h1v1h-1zM868 287h1v1h-1zM869 287h1v1h-1zM870 287h1v1h-1zM871 287h1v1h-1zM872 287h1v1h-1zM873 287h1v1h-1zM874 286h1v1h-1zM875 286h1v1h-1zM876 286h1v1h-1zM877 286h1v1h-1zM878 286h1v1h-1zM879 286h1v1h-1zM880 286h1v1h-1zM881 286h1v1h-1zM882 285h1v1h-1zM883 285h1v1h-1zM884 285h1v1h-1zM885 285h1v1h-1zM886 285h1v1h-1zM887 285h1v1h-1zM888 285h1v1h-1zM889 285h1v1h-1zM890 285h1v1h-1zM891 284h1v1h-1zM892 284h1v1h-1zM893 284h1v1h-1zM894 284h1v1h-1zM895 284h1v1h-1zM896 284h1v1h-1zM897 284h1v1h-1zM898 284h1v1h-1zM899 283h1v1h-1zM900 283h1v1h-1zM901 283h1v1h-1zM902 283h1v1h-1zM903 283h1v1h-1zM904 283h1v1h-1zM905 283h1v1h-1zM906 283h1v1h-1zM907 283h1v1h-1zM908 282h1v1h-1zM909 282h1v1h-1zM910 282h1v1h-1zM911 282h1v1h-1zM912 282h1v1h-1zM913 282h1v1h-1zM914 282h1v1h-1zM915 282h1v1h-1zM916 282h1v1h-1zM917 281h1v1h-1zM918 281h1v1h-1zM919 281h1v1h-1zM920 281h1v1h-1zM921 281h1v1h-1zM922 281h1v1h-1zM923 281h1v1h-1zM924 281h1v1h-1zM925 281h1v1h-1zM926 280h1v1h-1zM927 280h1v1h-1zM928 280h1v1h-1zM929 280h1v1h-1zM930 280h1v1h-1zM931 280h1v1h-1zM932 280h1v1h-1zM933 280h1v1h-1zM934 280h1v1h-1zM935 279h1v1h-1zM936 279h1v1h-1zM937 279h1v1h-1zM938 279h1v1h-1zM939 279h1v1h-1zM940 279h1v1h-1zM941 279h1v1h-1zM942 279h1v1h-1zM943 279h1v1h-1zM944 279h1v1h-1zM945 279h1v1h-1zM946 279h1v1h-1zM947 279h1v1h-1zM948 278h1v1h-1zM949 278h1v1h-1zM950 278h1v1h-1zM951 278h1v1h-1zM952 278h1v1h-1zM953 278h1v1h-1zM954 278h1v1h-1zM955 278h1v1h-1zM956 278h1v1h-1zM957 278h1v1h-1zM958 278h1v1h-1zM959 278h1v1h-1zM960 278h1v1h-1zM961 278h1v1h-1zM962 278h1v1h-1zM963 277h1v1h-1zM964 277h1v1h-1zM965 277h1v1h-1zM966 277h1v1h-1zM967 277h1v1h-1zM968 277h1v1h-1zM969 277h1v1h-1zM970 277h1v1h-1zM971 277h1v1h-1zM972 277h1v1h-1zM973 277h1v1h-1zM974 277h1v1h-1zM975 277h1v1h-1zM976 277h1v1h-1zM977 277h1v1h-1zM978 277h1v1h-1zM979 277h1v1h-1zM980 277h1v1h-1zM981 277h1v1h-1zM982 277h1v1h-1zM983 277h1v1h-1zM984 277h1v1h-1zM985 277h1v1h-1zM986 277h1v1h-1zM987 277h1v1h-1zM988 277h1v1h-1zM989 277h1v1h-1zM990 277h1v1h-1zM991 277h1v1h-1zM992 277h1v1h-1zM993 277h1v1h-1zM994 277h1v1h-1zM995 277h1v1h-1zM996 277h1v1h-1zM997 277h1v1h-1zM998 277h1v1h-1zM999 277h1v1h-1zM1000 277h1v1h-1zM1001 277h1v1h-1zM1002 277h1v1h-1zM1003 277h1v1h-1zM1004 277h1v1h-1zM1005 277h1v1h-1zM1006 277h1v1h-1zM1007 277h1v1h-1zM1008 277h1v1h-1zM1009 277h1v1h-1zM1010 277h1v1h-1zM1011 277h1v1h-1zM1012 277h1v1h-1zM1013 277h1v1h-1zM1014 277h1v1h-1zM1015 277h1v1h-1zM1016 277h1v1h-1zM1017 277h1v1h-1zM1018 277h1v1h-1zM1019 277h1v1h-1zM1020 277h1v1h-1zM1021 277h1v1h-1zM1022 277h1v1h-1zM1023 277h1v1h-1zM1024 277h1v1h-1zM1025 277h1v1h-1zM1026 277h1v1h-1zM1027 277h1v1h-1zM1028 277h1v1h-1zM1029 277h1v1h-1zM1030 277h1v1h-1zM1031 277h1v1h-1zM1032 277h1v1h-1zM1033 277h1v1h-1zM1034 277h1v1h-1zM1035 277h1v1h-1zM1036 277h1v1h-1zM1037 277h1v1h-1zM1038 277h1v1h-1zM1039 277h1v1h-1zM1040 277h1v1h-1zM1041 277h1v1h-1zM1042 277h1v1h-1zM1043 277h1v1h-1zM1044 277h1v1h-1zM1045 277h1v1h-1zM1046 277h1v1h-1zM1047 277h1v1h-1zM1048 277h1v1h-1zM1049 277h1v1h-1zM1050 277h1v1h-1zM1051 277h1v1h-1zM1052 277h1v1h-1zM1053 276h1v1h-1zM1054 276h1v1h-1zM1055 276h1v1h-1zM1056 276h1v1h-1zM1057 276h1v1h-1zM1058 276h1v1h-1zM1059 276h1v1h-1zM1060 276h1v1h-1zM1061 276h1v1h-1zM1062 276h1v1h-1zM1063 276h1v1h-1zM1064 276h1v1h-1zM1065 275h1v1h-1zM1066 275h1v1h-1zM1067 275h1v1h-1zM1068 275h1v1h-1zM1069 275h1v1h-1zM1070 275h1v1h-1zM1071 275h1v1h-1zM1072 275h1v1h-1zM1073 275h1v1h-1zM1074 275h1v1h-1zM1075 275h1v1h-1zM1076 275h1v1h-1zM1077 275h1v1h-1zM1078 275h1v1h-1zM1079 275h1v1h-1zM1080 275h1v1h-1zM1081 275h1v1h-1zM1082 275h1v1h-1zM1083 275h1v1h-1zM1084 275h1v1h-1zM1085 275h1v1h-1zM1086 275h1v1h-1zM1087 275h1v1h-1zM1088 275h1v1h-1zM1089 274h1v1h-1zM1090 274h1v1h-1zM1091 274h1v1h-1zM1092 274h1v1h-1zM1093 274h1v1h-1zM1094 274h1v1h-1zM1095 274h1v1h-1zM1096 274h1v1h-1zM1097 274h1v1h-1zM1098 274h1v1h-1zM1099 273h1v1h-1zM1100 273h1v1h-1zM1101 273h1v1h-1zM1102 273h1v1h-1zM1103 273h1v1h-1zM1104 273h1v1h-1zM1105 273h1v1h-1zM1106 273h1v1h-1zM1107 273h1v1h-1zM1108 273h1v1h-1zM1109 272h1v1h-1zM1110 272h1v1h-1zM1111 272h1v1h-1zM1112 272h1v1h-1zM1113 272h1v1h-1zM1114 272h1v1h-1zM1115 272h1v1h-1zM1116 272h1v1h-1zM1117 272h1v1h-1zM1118 272h1v1h-1zM1119 271h1v1h-1zM1120 271h1v1h-1zM1121 271h1v1h-1zM1122 271h1v1h-1zM1123 271h1v1h-1zM1124 271h1v1h-1zM1125 271h1v1h-1zM1126 271h1v1h-1zM1127 270h1v1h-1zM1128 270h1v1h-1zM1129 270h1v1h-1zM1130 270h1v1h-1zM1131 270h1v1h-1zM1132 270h1v1h-1zM1133 270h1v1h-1zM1134 270h1v1h-1zM1135 269h1v1h-1zM1136 269h1v1h-1zM1137 269h1v1h-1zM1138 269h1v1h-1zM1139 269h1v1h-1zM1140 269h1v1h-1zM1141 269h1v1h-1zM1142 268h1v1h-1zM1143 268h1v1h-1zM1144 268h1v1h-1zM1145 268h1v1h-1zM1146 268h1v1h-1zM1147 268h1v1h-1zM1148 268h1v1h-1zM1149 268h1v1h-1zM1150 267h1v1h-1zM1151 267h1v1h-1zM1152 267h1v1h-1zM1153 267h1v1h-1zM1154 267h1v1h-1zM1155 267h1v1h-1zM1156 267h1v1h-1zM1157 266h1v1h-1zM1158 266h1v1h-1zM1159 266h1v1h-1zM1160 266h1v1h-1zM1161 266h1v1h-1zM1162 266h1v1h-1zM1163 266h1v1h-1zM1164 266h1v1h-1zM1165 265h1v1h-1zM1166 265h1v1h-1zM1167 265h1v1h-1zM1168 265h1v1h-1zM1169 265h1v1h-1zM1170 265h1v1h-1zM1171 265h1v1h-1z" fill="#ff0000"/>
<path d="M4 285h1v1h-1zM5 285h1v1h-1zM6 284h1v1h-1zM7 284h1v1h-1zM8 284h1v1h-1zM9 284h1v1h-1zM10 284h1v1h-1zM11 284h1v1h-1zM12 284h1v1h-1zM13 284h1v1h-1zM14 284h1v1h-1zM15 284h1v1h-1zM16 284h1v1h-1zM17 284h1v1h-1zM18 283h1v1h-1zM19 283h1v1h-1zM20 283h1v1h-1zM21 283h1v1h-1zM22 283h1v1h-1zM23 283h1v1h-1zM24 283h1v1h-1zM25 283h1v1h-1zM26 283h1v1h-1zM27 283h1v1h-1zM28 283h1v1h-1zM29 283h1v1h-1zM30 283h1v1h-1zM31 283h1v1h-1zM32 283h1v1h-1zM33 283h1v1h-1zM34 283h1v1h-1zM35 283h1v1h-1zM36 283h1v1h-1zM37 283h1v1h-1zM38 283h1v1h-1zM39 284h1v1h-1zM40 284h1v1h-1zM41 284h1v1h-1zM42 284h1v1h-1zM43 284h1v1h-1zM44 285h1v1h-1zM45 285h1v1h-1zM46 285h1v1h-1zM47 285h1v1h-1zM48 286h1v1h-1zM49 286h1v1h-1zM50 286h1v1h-1zM51 286h1v1h-1zM52 287h1v1h-1zM53 287h1v1h-1zM54 287h1v1h-1zM55 287h1v1h-1zM56 288h1v1h-1zM57 288h1v1h-1zM58 288h1v1h-1zM59 288h1v1h-1zM60 289h1v1h-1zM61 289h1v1h-1zM62 289h1v1h-1zM63 289h1v1h-1zM64 290h1v1h-1zM65 290h1v1h-1zM66 290h1v1h-1zM67 290h1v1h-1zM68 291h1v1h-1zM69 291h1v1h-1zM70 291h1v1h-1zM71 291h1v1h-1zM72 292h1v1h-1zM73 292h1v1h-1zM74 292h1v1h-1zM75 292h1v1h-1zM76 293h1v1h-1zM77 293h1v1h-1zM78 293h1v1h-1zM79 293h1v1h-1zM80 294h1v1h-1zM81 294h1v1h-1zM82 294h1v1h-1zM83 294h1v1h-1zM84 295h1v1h-1zM85 295h1v1h-1zM86 295h1v1h-1zM87 295h1v1h-1zM88 296h1v1h-1zM89 296h1v1h-1zM90 296h1v1h-1zM91 296h1v1h-1zM92 297h1v1h-1zM93 297h1v1h-1zM94 297h1v1h-1zM95 297h1v1h-1zM96 298h1v1h-1zM97 298h1v1h-1zM98 298h1v1h-1zM99 298h1v1h-1zM100 299h1v1h-1zM101 299h1v1h-1zM102 299h1v1h-1zM103 299h1v1h-1zM104 300h1v1h-1zM105 300h1v1h-1zM106 300h1v1h-1zM107 300h1v1h-1zM108 300h1v1h-1zM109 301h1v1h-1zM110 301h1v1h-1zM111 301h1v1h-1zM112 301h1v1h-1zM113 302h1v1h-1zM114 302h1v1h-1zM115 302h1v1h-1zM116 302h1v1h-1zM117 302h1v1h-1zM118 303h1v1h-1zM119 303h1v1h-1zM120 303h1v1h-1zM121 303h1v1h-1zM122 304h1v1h-1zM123 304h1v1h-1zM124 304h1v1h-1zM125 304h1v1h-1zM126 304h1v1h-1zM127 305h1v1h-1zM128 305h1v1h-1zM129 305h1v1h-1zM130 305h1v1h-1zM131 306h1v1h-1zM132 306h1v1h-1zM133 306h1v1h-1zM134 306h1v1h-1zM135 306h1v1h-1zM136 307h1v1h-1zM137 307h1v1h-1zM138 307h1v1h-1zM139 307h1v1h-1zM140 307h1v1h-1zM141 307h1v1h-1zM142 308h1v1h-1zM143 308h1v1h-1zM144 308h1v1h-1zM145 308h1v1h-1zM146 308h1v1h-1zM147 308h1v1h-1zM148 309h1v1h-1zM149 309h1v1h-1zM150 309h1v1h-1zM151 309h1v1h-1zM152 309h1v1h-1zM153 310h1v1h-1zM154 310h1v1h-1zM155 310h1v1h-1zM156 310h1v1h-1zM157 310h1v1h-1zM158 310h1v1h-1zM159 310h1v1h-1zM160 310h1v1h-1zM161 310h1v1h-1zM162 310h1v1h-1zM163 310h1v1h-1zM164 310h1v1h-1zM165 310h1v1h-1zM166 310h1v1h-1zM167 310h1v1h-1zM168 311h1v1h-1zM169 311h1v1h-1zM170 311h1v1h-1zM171 311h1v1h-1zM172 311h1v1h-1zM173 311h1v1h-1zM174 311h1v1h-1zM175 311h1v1h-1zM176 311h1v1h-1zM177 311h1v1h-1zM178 311h1v1h-1zM179 311h1v1h-1zM180 311h1v1h-1zM181 311h1v1h-1zM182 311h1v1h-1zM183 311h1v1h-1zM184 311h1v1h-1zM185 311h1v1h-1zM186 311h1v1h-1zM187 310h1v1h-1zM188 310h1v1h-1zM189 310h1v1h-1zM190 310h1v1h-1zM191 310h1v1h-1zM192 310h1v1h-1zM193 310h1v1h-1zM194 310h1v1h-1zM195 309h1v1h-1zM196 309h1v1h-1zM197 309h1v1h-1zM198 309h1v1h-1zM199 309h1v1h-1zM200 309h1v1h-1zM201 308h1v1h-1zM202 308h1v1h-1zM203 308h1v1h-1zM204 308h1v1h-1zM205 307h1v1h-1zM206 307h1v1h-1zM207 307h1v1h-1zM208 307h1v1h-1zM209 306h1v1h-1zM210 306h1v1h-1zM211 306h1v1h-1zM212 305h1v1h-1zM213 305h1v1h-1zM214 305h1v1h-1zM215 305h1v1h-1zM216 304h1v1h-1zM217 304h1v1h-1zM218 304h1v1h-1zM219 304h1v1h-1zM220 303h1v1h-1zM221 303h1v1h-1zM222 303h1v1h-1zM223 303h1v1h-1zM224 302h1v1h-1zM225 302h1v1h-1zM226 302h1v1h-1zM227 301h1v1h-1zM228 301h1v1h-1zM229 301h1v1h-1zM230 301h1v1h-1zM231 300h1v1h-1zM232 300h1v1h-1zM233 300h1v1h-1zM234 299h1v1h-1zM235 299h1v1h-1zM236 299h1v1h-1zM237 299h1v1h-1zM238 298h1v1h-1zM239 298h1v1h-1zM240 298h1v1h-1zM241 298h1v1h-1zM242 297h1v1h-1zM243 297h1v1h-1zM244 297h1v1h-1zM245 296h1v1h-1zM246 296h1v1h-1zM247 296h1v1h-1zM248 296h1v1h-1zM249 295h1v1h-1zM250 295h1v1h-1zM251 295h1v1h-1zM252 295h1v1h-1zM253 295h1v1h-1zM254 295h1v1h-1zM255 294h1v1h-1zM256 294h1v1h-1zM257 294h1v1h-1zM258 294h1v1h-1zM259 294h1v1h-1zM260 294h1v1h-1zM261 293h1v1h-1zM262 293h1v1h-1zM263 293h1v1h-1zM264 293h1v1h-1zM265 293h1v1h-1zM266 293h1v1h-1zM267 293h1v1h-1zM268 293h1v1h-1zM269 293h1v1h-1zM270 293h1v1h-1zM271 292h1v1h-1zM272 292h1v1h-1zM273 292h1v1h-1zM274 292h1v1h-1zM275 292h1v1h-1zM276 292h1v1h-1zM277 292h1v1h-1zM278 292h1v1h-1zM279 292h1v1h-1zM280 292h1v1h-1zM281 292h1v1h-1zM282 292h1v1h-1zM283 292h1v1h-1zM284 292h1v1h-1zM285 292h1v1h-1zM286 292h1v1h-1zM287 292h1v1h-1zM288 292h1v1h-1zM289 292h1v1h-1zM290 292h1v1h-1zM291 292h1v1h-1zM292 292h1v1h-1zM293 292h1v1h-1zM294 292h1v1h-1zM295 292h1v1h-1zM296 292h1v1h-1zM297 292h1v1h-1zM298 292h1v1h-1zM299 292h1v1h-1zM300 292h1v1h-1zM301 292h1v1h-1zM302 292h1v1h-1zM303 292h1v1h-1zM304 293h1v1h-1zM305 293h1v1h-1zM306 293h1v1h-1zM307 293h1v1h-1zM308 293h1v1h-1zM309 293h1v1h-1zM310 293h1v1h-1zM311 293h1v1h-1zM312 293h1v1h-1zM313 293h1v1h-1zM314 293h1v1h-1zM315 293h1v1h-1zM316 293h1v1h-1zM317 293h1v1h-1zM318 293h1v1h-1zM319 293h1v1h-1zM320 293h1v1h-1zM321 293h1v1h-1zM322 293h1v1h-1zM323 293h1v1h-1zM324 293h1v1h-1zM325 293h1v1h-1zM326 293h1v1h-1zM327 293h1v1h-1zM328 293h1v1h-1zM329 293h1v1h-1zM330 293h1v1h-1zM331 293h1v1h-1zM332 293h1v1h-1zM333 293h1v1h-1zM334 293h1v1h-1zM335 293h1v1h-1zM336 293h1v1h-1zM337 293h1v1h-1zM338 293h1v1h-1zM339 293h1v1h-1zM340 293h1v1h-1zM341 293h1v1h-1zM342 293h1v1h-1zM343 293h1v1h-1zM344 293h1v1h-1zM345 293h1v1h-1zM346 292h1v1h-1zM347 292h1v1h-1zM348 292h1v1h-1zM349 292h1v1h-1zM350 292h1v1h-1zM351 291h1v1h-1zM352 291h1v1h-1zM353 291h1v1h-1zM354 291h1v1h-1zM355 291h1v1h-1zM356 290h1v1h-1zM357 290h1v1h-1zM358 290h1v1h-1zM359 290h1v1h-1zM360 290h1v1h-1zM361 289h1v1h-1zM362 289h1v1h-1zM363 289h1v1h-1zM364 289h1v1h-1zM365 289h1v1h-1zM366 288h1v1h-1zM367 288h1v1h-1zM368 288h1v1h-1zM369 288h1v1h-1zM370 287h1v1h-1zM371 287h1v1h-1zM372 287h1v1h-1zM373 287h1v1h-1zM374 286h1v1h-1zM375 286h1v1h-1zM376 286h1v1h-1zM377 286h1v1h-1zM378 285h1v1h-1zM379 285h1v1h-1zM380 285h1v1h-1zM381 285h1v1h-1zM382 284h1v1h-1zM383 284h1v1h-1zM384 284h1v1h-1zM385 284h1v1h-1zM386 283h1v1h-1zM387 283h1v1h-1zM388 283h1v1h-1zM389 283h1v1h-1zM390 283h1v1h-1zM391 283h1v1h-1zM392 283h1v1h-1zM393 283h1v1h-1zM394 283h1v1h-1zM395 283h1v1h-1zM396 283h1v1h-1zM397 282h1v1h-1zM398 282h1v1h-1zM399 282h1v1h-1zM400 282h1v1h-1zM401 282h1v1h-1zM402 282h1v1h-1zM403 282h1v1h-1zM404 282h1v1h-1zM405 282h1v1h-1zM406 282h1v1h-1zM407 282h1v1h-1zM408 282h1v1h-1zM409 282h1v1h-1zM410 282h1v1h-1zM411 282h1v1h-1zM412 282h1v1h-1zM413 282h1v1h-1zM414 282h1v1h-1zM415 282h1v1h-1zM416 282h1v1h-1zM417 282h1v1h-1zM418 282h1v1h-1zM419 282h1v1h-1zM420 282h1v1h-1zM421 282h1v1h-1zM422 282h1v1h-1zM423 282h1v1h-1zM424 282h1v1h-1zM425 282h1v1h-1zM426 282h1v1h-1zM427 282h1v1h-1zM428 282h1v1h-1zM429 282h1v1h-1zM430 282h1v1h-1zM431 282h1v1h-1zM432 282h1v1h-1zM433 282h1v1h-1zM434 282h1v1h-1zM435 282h1v1h-1zM436 282h1v1h-1zM437 282h1v1h-1zM438 282h1v1h-1zM439 282h1v1h-1zM440 282h1v1h-1zM441 282h1v1h-1zM442 282h1v1h-1zM443 282h1v1h-1zM444 282h1v1h-1zM445 282h1v1h-1zM446 282h1v1h-1zM447 282h1v1h-1zM448 282h1v1h-1zM449 282h1v1h-1zM450 282h1v1h-1zM451 282h1v1h-1zM452 282h1v1h-1zM453 282h1v1h-1zM454 282h1v1h-1zM455 282h1v1h-1zM456 282h1v1h-1zM457 282h1v1h-1zM458 283h1v1h-1zM459 283h1v1h-1zM460 283h1v1h-1zM461 283h1v1h-1zM462 282h1v1h-1zM463 282h1v1h-1zM464 282h1v1h-1zM465 282h1v1h-1zM466 282h1v1h-1zM467 282h1v1h-1zM468 281h1v1h-1zM469 281h1v1h-1zM470 281h1v1h-1zM471 281h1v1h-1zM472 281h1v1h-1zM473 281h1v1h-1zM474 280h1v1h-1zM475 280h1v1h-1zM476 280h1v1h-1zM477 279h1v1h-1zM478 279h1v1h-1zM479 278h1v1h-1zM480 278h1v1h-1zM481 278h1v1h-1zM482 277h1v1h-1zM483 277h1v1h-1zM484 276h1v1h-1zM485 275h1v1h-1zM486 275h1v1h-1zM487 274h1v1h-1zM488 273h1v1h-1zM489 273h1v1h-1zM490 272h1v1h-1zM491 272h1v1h-1zM492 271h1v1h-1zM493 270h1v1h-1zM494 270h1v1h-1zM495 269h1v1h-1zM496 268h1v1h-1zM497 268h1v1h-1zM498 267h1v1h-1zM499 266h1v1h-1zM500 266h1v1h-1zM501 265h1v1h-1zM502 264h1v1h-1zM503 264h1v1h-1zM504 263h1v1h-1zM505 262h1v1h-1zM506 262h1v1h-1zM507 261h1v1h-1zM508 260h1v1h-1zM509 260h1v1h-1zM510 259h1v1h-1zM511 258h1v1h-1zM512 258h1v1h-1zM513 257h1v1h-1zM514 256h1v1h-1zM515 256h1v1h-1zM516 255h1v1h-1zM517 254h1v1h-1zM518 253h1v1h-1zM519 252h1v1h-1zM520 251h1v1h-1zM521 250h1v1h-1zM522 250h1v1h-1zM523 249h1v1h-1zM524 248h1v1h-1zM525 247h1v1h-1zM526 246h1v1h-1zM527 246h1v1h-1zM528 245h1v1h-1zM529 244h1v1h-1zM530 244h1v1h-1zM531 243h1v1h-1zM532 243h1v1h-1zM533 242h1v1h-1zM534 241h1v1h-1zM535 241h1v1h-1zM536 240h1v1h-1zM537 239h1v1h-1zM538 239h1v1h-1zM539 238h1v1h-1zM540 238h1v1h-1zM541 237h1v1h-1zM542 236h1v1h-1zM543 236h1v1h-1zM544 235h1v1h-1zM545 235h1v1h-1zM546 234h1v1h-1zM547 234h1v1h-1zM548 233h1v1h-1zM549 232h1v1h-1zM550 232h1v1h-1zM551 231h1v1h-1zM552 231h1v1h-1zM553 230h1v1h-1zM554 230h1v1h-1zM555 229h1v1h-1zM556 228h1v1h-1zM557 228h1v1h-1zM558 227h1v1h-1zM559 227h1v1h-1zM560 226h1v1h-1zM561 226h1v1h-1zM562 225h1v1h-1zM563 224h1v1h-1zM564 224h1v1h-1zM565 223h1v1h-1zM566 223h1v1h-1zM567 222h1v1h-1zM568 222h1v1h-1zM569 221h1v1h-1zM570 221h1v1h-1zM571 220h1v1h-1zM572 219h1v1h-1zM573 219h1v1h-1zM574 218h1v1h-1zM575 218h1v1h-1zM576 217h1v1h-1zM577 217h1v1h-1zM578 216h1v1h-1zM579 216h1v1h-1zM580 215h1v1h-1zM581 215h1v1h-1zM582 214h1v1h-1zM583 214h1v1h-1zM584 213h1v1h-1zM585 213h1v1h-1zM586 212h1v1h-1zM587 212h1v1h-1zM588 211h1v1h-1zM589 211h1v1h-1zM590 210h1v1h-1zM591 210h1v1h-1zM592 210h1v1h-1zM593 209h1v1h-1zM594 209h1v1h-1zM595 208h1v1h-1zM596 208h1v1h-1zM597 207h1v1h-1zM598 207h1v1h-1zM599 206h1v1h-1zM600 206h1v1h-1zM601 205h1v1h-1zM602 205h1v1h-1zM603 204h1v1h-1zM604 204h1v1h-1zM605 204h1v1h-1zM606 203h1v1h-1zM607 203h1v1h-1zM608 202h1v1h-1zM609 202h1v1h-1zM610 202h1v1h-1zM611 201h1v1h-1zM612 201h1v1h-1zM613 200h1v1h-1zM614 200h1v1h-1zM615 200h1v1h-1zM616 199h1v1h-1zM617 199h1v1h-1zM618 198h1v1h-1zM619 198h1v1h-1zM620 198h1v1h-1zM621 197h1v1h-1zM622 197h1v1h-1zM623 196h1v1h-1zM624 196h1v1h-1zM625 196h1v1h-1zM626 195h1v1h-1zM627 195h1v1h-1zM628 194h1v1h-1zM629 194h1v1h-1zM630 194h1v1h-1zM631 193h1v1h-1zM632 193h1v1h-1zM633 193h1v1h-1zM634 192h1v1h-1zM635 192h1v1h-1zM636 192h1v1h-1zM637 191h1v1h-1zM638 191h1v1h-1zM639 191h1v1h-1zM640 190h1v1h-1zM641 190h1v1h-1zM642 189h1v1h-1zM643 189h1v1h-1zM644 189h1v1h-1zM645 188h1v1h-1zM646 188h1v1h-1zM647 188h1v1h-1zM648 187h1v1h-1zM649 187h1v1h-1zM650 187h1v1h-1zM651 187h1v1h-1zM652 186h1v1h-1zM653 186h1v1h-1zM654 186h1v1h-1zM655 186h1v1h-1zM656 185h1v1h-1zM657 185h1v1h-1zM658 185h1v1h-1zM659 185h1v1h-1zM660 184h1v1h-1zM661 184h1v1h-1zM662 184h1v1h-1zM663 184h1v1h-1zM664 183h1v1h-1zM665 183h1v1h-1zM666 183h1v1h-1zM667 183h1v1h-1zM668 182h1v1h-1zM669 182h1v1h-1zM670 182h1v1h-1zM671 181h1v1h-1zM672 181h1v1h-1zM673 180h1v1h-1zM674 180h1v1h-1zM675 180h1v1h-1zM676 179h1v1h-1zM677 179h1v1h-1zM678 178h1v1h-1zM679 178h1v1h-1zM680 177h1v1h-1zM681 177h1v1h-1zM682 177h1v1h-1zM683 176h1v1h-1zM684 176h1v1h-1zM685 175h1v1h-1zM686 175h1v1h-1zM687 175h1v1h-1zM688 175h1v1h-1zM689 174h1v1h-1zM690 174h1v1h-1zM691 174h1v1h-1zM692 174h1v1h-1zM693 173h1v1h-1zM694 173h1v1h-1zM695 173h1v1h-1zM696 172h1v1h-1zM697 172h1v1h-1zM698 172h1v1h-1zM699 172h1v1h-1zM700 171h1v1h-1zM701 171h1v1h-1zM702 171h1v1h-1zM703 171h1v1h-1zM704 170h1v1h-1zM705 170h1v1h-1zM706 170h1v1h-1zM707 170h1v1h-1zM708 169h1v1h-1zM709 169h1v1h-1zM710 169h1v1h-1zM711 169h1v1h-1zM712 169h1v1h-1zM713 169h1v1h-1zM714 168h1v1h-1zM715 168h1v1h-1zM716 168h1v1h-1zM717 168h1v1h-1zM718 168h1v1h-1zM719 168h1v1h-1zM720 167h1v1h-1zM721 167h1v1h-1zM722 167h1v1h-1zM723 167h1v1h-1zM724 167h1v1h-1zM725 167h1v1h-1zM726 167h1v1h-1zM727 167h1v1h-1zM728 167h1v1h-1zM729 166h1v1h-1zM730 166h1v1h-1zM731 166h1v1h-1zM732 166h1v1h-1zM733 166h1v1h-1zM734 166h1v1h-1zM735 166h1v1h-1zM736 166h1v1h-1zM737 166h1v1h-1zM738 166h1v1h-1zM739 166h1v1h-1zM740 166h1v1h-1zM741 166h1v1h-1zM742 166h1v1h-1zM743 166h1v1h-1zM744 166h1v1h-1zM745 166h1v1h-1zM746 166h1v1h-1zM747 166h1v1h-1zM748 166h1v1h-1zM749 167h1v1h-1zM750 167h1v1h-1zM751 167h1v1h-1zM752 167h1v1h-1zM753 167h1v1h-1zM754 167h1v1h-1zM755 168h1v1h-1zM756 168h1v1h-1zM757 168h1v1h-1zM758 168h1v1h-1zM759 168h1v1h-1zM760 169h1v1h-1zM761 169h1v1h-1zM762 169h1v1h-1zM763 170h1v1h-1zM764 170h1v1h-1zM765 170h1v1h-1zM766 170h1v1h-1zM767 171h1v1h-1zM768 171h1v1h-1zM769 171h1v1h-1zM770 172h1v1h-1zM771 172h1v1h-1zM772 172h1v1h-1zM773 173h1v1h-1zM774 173h1v1h-1zM775 174h1v1h-1zM776 174h1v1h-1zM777 174h1v1h-1zM778 175h1v1h-1zM779 175h1v1h-1zM780 175h1v1h-1zM781 176h1v1h-1zM782 176h1v1h-1zM783 176h1v1h-1zM784 177h1v1h-1zM785 177h1v1h-1zM786 177h1v1h-1zM787 178h1v1h-1zM788 178h1v1h-1zM789 178h1v1h-1zM790 178h1v1h-1zM791 178h1v1h-1zM792 179h1v1h-1zM793 179h1v1h-1zM794 179h1v1h-1zM795 179h1v1h-1zM796 180h1v1h-1zM797 180h1v1h-1zM798 180h1v1h-1zM799 180h1v1h-1zM800 181h1v1h-1zM801 181h1v1h-1zM802 181h1v1h-1zM803 181h1v1h-1zM804 182h1v1h-1zM805 182h1v1h-1zM806 183h1v1h-1zM807 183h1v1h-1zM808 184h1v1h-1zM809 184h1v1h-1zM810 184h1v1h-1zM811 185h1v1h-1zM812 185h1v1h-1zM813 186h1v1h-1zM814 186h1v1h-1zM815 187h1v1h-1zM816 187h1v1h-1zM817 187h1v1h-1zM818 188h1v1h-1zM819 188h1v1h-1zM820 189h1v1h-1zM821 189h1v1h-1zM822 190h1v1h-1zM823 191h1v1h-1zM824 191h1v1h-1zM825 192h1v1h-1zM826 192h1v1h-1zM827 193h1v1h-1zM828 193h1v1h-1zM829 194h1v1h-1zM830 194h1v1h-1zM831 195h1v1h-1zM832 195h1v1h-1zM833 196h1v1h-1zM834 196h1v1h-1zM835 196h1v1h-1zM836 197h1v1h-1zM837 197h1v1h-1zM838 198h1v1h-1zM839 198h1v1h-1zM840 199h1v1h-1zM841 199h1v1h-1zM842 199h1v1h-1zM843 200h1v1h-1zM844 200h1v1h-1zM845 201h1v1h-1zM846 201h1v1h-1zM847 201h1v1h-1zM848 202h1v1h-1zM849 202h1v1h-1zM850 202h1v1h-1zM851 203h1v1h-1zM852 203h1v1h-1zM853 203h1v1h-1zM854 204h1v1h-1zM855 204h1v1h-1zM856 205h1v1h-1zM857 205h1v1h-1zM858 205h1v1h-1zM859 206h1v1h-1zM860 206h1v1h-1zM861 206h1v1h-1zM862 206h1v1h-1zM863 207h1v1h-1zM864 207h1v1h-1zM865 207h1v1h-1zM866 207h1v1h-1zM867 207h1v1h-1zM868 208h1v1h-1zM869 208h1v1h-1zM870 208h1v1h-1zM871 208h1v1h-1zM872 208h1v1h-1zM873 209h1v1h-1zM874 209h1v1h-1zM875 209h1v1h-1zM876 209h1v1h-1zM877 210h1v1h-1zM878 210h1v1h-1zM879 210h1v1h-1zM880 210h1v1h-1zM881 210h1v1h-1zM882 211h1v1h-1zM883 211h1v1h-1zM884 211h1v1h-1zM885 211h1v1h-1zM886 212h1v1h-1zM887 212h1v1h-1zM888 212h1v1h-1zM889 212h1v1h-1zM890 213h1v1h-1zM891 213h1v1h-1zM892 213h1v1h-1zM893 213h1v1h-1zM894 214h1v1h-1zM895 214h1v1h-1zM896 214h1v1h-1zM897 214h1v1h-1zM898 214h1v1h-1zM899 215h1v1h-1zM900 215h1v1h-1zM901 215h1v1h-1zM902 215h1v1h-1zM903 215h1v1h-1zM904 215h1v1h-1zM905 215h1v1h-1zM906 215h1v1h-1zM907 215h1v1h-1zM908 215h1v1h-1zM909 215h1v1h-1zM910 215h1v1h-1zM911 215h1v1h-1zM912 215h1v1h-1zM913 216h1v1h-1zM914 216h1v1h-1zM915 216h1v1h-1zM916 217h1v1h-1zM917 217h1v1h-1zM918 217h1v1h-1zM919 218h1v1h-1zM920 218h1v1h-1zM921 219h1v1h-1zM922 219h1v1h-1zM923 220h1v1h-1zM924 220h1v1h-1zM925 221h1v1h-1zM926 221h1v1h-1zM927 222h1v1h-1zM928 222h1v1h-1zM929 223h1v1h-1zM930 223h1v1h-1zM931 224h1v1h-1zM932 224h1v1h-1zM933 225h1v1h-1zM934 225h1v1h-1zM935 226h1v1h-1zM936 226h1v1h-1zM937 227h1v1h-1zM938 227h1v1h-1zM939 228h1v1h-1zM940 228h1v1h-1zM941 229h1v1h-1zM942 229h1v1h-1zM943 230h1v1h-1zM944 230h1v1h-1zM945 231h1v1h-1zM946 231h1v1h-1zM947 232h1v1h-1zM948 232h1v1h-1zM949 233h1v1h-1zM950 233h1v1h-1zM951 234h1v1h-1zM952 234h1v1h-1zM953 235h1v1h-1zM954 235h1v1h-1zM955 236h1v1h-1zM956 236h1v1h-1zM957 237h1v1h-1zM958 237h1v1h-1zM959 238h1v1h-1zM960 238h1v1h-1zM961 239h1v1h-1zM962 239h1v1h-1zM963 240h1v1h-1zM964 240h1v1h-1zM965 241h1v1h-1zM966 241h1v1h-1zM967 242h1v1h-1zM968 242h1v1h-1zM969 243h1v1h-1zM970 243h1v1h-1zM971 244h1v1h-1zM972 244h1v1h-1zM973 245h1v1h-1zM974 245h1v1h-1zM975 246h1v1h-1zM976 246h1v1h-1zM977 247h1v1h-1zM978 247h1v1h-1zM979 247h1v1h-1zM980 248h1v1h-1zM981 248h1v1h-1zM982 249h1v1h-1zM983 249h1v1h-1zM984 250h1v1h-1zM985 250h1v1h-1zM986 251h1v1h-1zM987 251h1v1h-1zM988 251h1v1h-1zM989 252h1v1h-1zM990 252h1v1h-1zM991 253h1v1h-1zM992 253h1v1h-1zM993 254h1v1h-1zM994 254h1v1h-1zM995 255h1v1h-1zM996 255h1v1h-1zM997 255h1v1h-1zM998 256h1v1h-1zM999 256h1v1h-1zM1000 257h1v1h-1zM1001 257h1v1h-1zM1002 258h1v1h-1zM1003 258h1v1h-1zM1004 259h1v1h-1zM1005 259h1v1h-1zM1006 259h1v1h-1zM1007 260h1v1h-1zM1008 260h1v1h-1zM1009 261h1v1h-1zM1010 261h1v1h-1zM1011 262h1v1h-1zM1012 262h1v1h-1zM1013 263h1v1h-1zM1014 263h1v1h-1zM1015 263h1v1h-1zM1016 264h1v1h-1zM1017 264h1v1h-1zM1018 265h1v1h-1zM1019 265h1v1h-1zM1020 266h1v1h-1zM1021 266h1v1h-1zM1022 266h1v1h-1zM1023 267h1v1h-1zM1024 267h1v1h-1zM1025 268h1v1h-1zM1026 268h1v1h-1zM1027 268h1v1h-1zM1028 269h1v1h-1zM1029 269h1v1h-1zM1030 269h1v1h-1zM1031 270h1v1h-1zM1032 270h1v1h-1zM1033 271h1v1h-1zM1034 271h1v1h-1zM1035 271h1v1h-1zM1036 272h1v1h-1zM1037 272h1v1h-1zM1038 273h1v1h-1zM1039 273h1v1h-1zM1040 273h1v1h-1zM1041 274h1v1h-1zM1042 274h1v1h-1zM1043 274h1v1h-1zM1044 275h1v1h-1zM1045 275h1v1h-1zM1046 276h1v1h-1zM1047 276h1v1h-1zM1048 276h1v1h-1zM1049 277h1v1h-1zM1050 277h1v1h-1zM1051 277h1v1h-1zM1052 278h1v1h-1zM1053 278h1v1h-1zM1054 279h1v1h-1zM1055 279h1v1h-1zM1056 279h1v1h-1zM1057 280h1v1h-1zM1058 280h1v1h-1zM1059 280h1v1h-1zM1060 281h1v1h-1zM1061 281h1v1h-1zM1062 282h1v1h-1zM1063 282h1v1h-1zM1064 282h1v1h-1zM1065 283h1v1h-1zM1066 283h1v1h-1zM1067 284h1v1h-1zM1068 284h1v1h-1zM1069 285h1v1h-1zM1070 285h1v1h-1zM1071 285h1v1h-1zM1072 286h1v1h-1zM1073 286h1v1h-1zM1074 287h1v1h-1zM1075 287h1v1h-1zM1076 287h1v1h-1zM1077 288h1v1h-1zM1078 288h1v1h-1zM1079 289h1v1h-1zM1080 289h1v1h-1zM1081 290h1v1h-1zM1082 290h1v1h-1zM1083 290h1v1h-1zM1084 291h1v1h-1zM1085 291h1v1h-1zM1086 292h1v1h-1zM1087 292h1v1h-1zM1088 293h1v1h-1zM1089 293h1v1h-1zM1090 293h1v1h-1zM1091 294h1v1h-1zM1092 294h1v1h-1zM1093 295h1v1h-1zM1094 295h1v1h-1zM1095 295h1v1h-1zM1096 296h1v1h-1zM1097 296h1v1h-1zM1098 296h1v1h-1zM1099 296h1v1h-1zM1100 297h1v1h-1zM1101 297h1v1h-1zM1102 297h1v1h-1zM1103 298h1v1h-1zM1104 298h1v1h-1zM1105 298h1v1h-1zM1106 299h1v1h-1zM1107 299h1v1h-1zM1108 299h1v1h-1zM1109 300h1v1h-1zM1110 300h1v1h-1zM1111 300h1v1h-1zM1112 301h1v1h-1zM1113 301h1v1h-1zM1114 301h1v1h-1zM1115 302h1v1h-1zM1116 302h1v1h-1zM1117 302h1v1h-1zM1118 303h1v1h-1zM1119 303h1v1h-1zM1120 304h1v1h-1zM1121 304h1v1h-1zM1122 304h1v1h-1zM1123 305h1v1h-1zM1124 305h1v1h-1zM1125 305h1v1h-1zM1126 306h1v1h-1zM1127 306h1v1h-1zM1128 307h1v1h-1zM1129 307h1v1h-1zM1130 307h1v1h-1zM1131 308h1v1h-1zM1132 308h1v1h-1zM1133 308h1v1h-1zM1134 309h1v1h-1zM1135 309h1v1h-1zM1136 310h1v1h-1zM1137 310h1v1h-1zM1138 310h1v1h-1zM1139 311h1v1h-1zM1140 311h1v1h-1zM1141 311h1v1h-1zM1142 312h1v1h-1zM1143 312h1v1h-1zM1144 313h1v1h-1zM1145 313h1v1h-1zM1146 313h1v1h-1zM1147 314h1v1h-1zM1148 314h1v1h-1zM1149 315h1v1h-1zM1150 315h1v1h-1zM1151 315h1v1h-1zM1152 316h1v1h-1zM1153 316h1v1h-1zM1154 317h1v1h-1zM1155 317h1v1h-1zM1156 317h1v1h-1zM1157 317h1v1h-1zM1158 317h1v1h-1zM1159 317h1v1h-1zM1160 317h1v1h-1zM1161 317h1v1h-1zM1162 318h1v1h-1zM1163 318h1v1h-1zM1164 318h1v1h-1zM1165 318h1v1h-1zM1166 318h1v1h-1zM1167 317h1v1h-1zM1168 317h1v1h-1zM1169 317h1v1h-1zM1170 317h1v1h-1zM1171 317h1v1h-1z" fill="#ff00ff"/>
<path d="M12 258h1v1h-1zM13 258h1v1h-1zM14 259h1v1h-1zM15 259h1v1h-1zM16 259h1v1h-1zM17 260h1v1h-1zM18 260h1v1h-1zM19 261h1v1h-1zM20 261h1v1h-1zM21 261h1v1h-1zM22 262h1v1h-1zM23 262h1v1h-1zM24 263h1v1h-1zM25 263h1v1h-1zM26 264h1v1h-1zM27 264h1v1h-1zM28 265h1v1h-1zM29 265h1v1h-1zM30 266h1v1h-1zM31 267h1v1h-1zM32 268h1v1h-1zM33 269h1v1h-1zM34 269h1v1h-1zM35 270h1v1h-1zM36 271h1v1h-1zM37 272h1v1h-1zM38 273h1v1h-1zM39 274h1v1h-1zM40 275h1v1h-1zM41 276h1v2h-1zM42 278h1v1h-1zM43 279h1v1h-1zM44 280h1v1h-1zM45 281h1v1h-1zM46 282h1v1h-1zM47 283h1v2h-1zM48 285h1v1h-1zM49 286h1v1h-1zM50 287h1v1h-1zM51 288h1v2h-1zM52 290h1v1h-1zM53 291h1v1h-1zM54 292h1v2h-1zM55 294h1v1h-1zM56 295h1v1h-1zM57 296h1v2h-1zM58 298h1v1h-1zM59 299h1v1h-1zM60 300h1v1h-1zM61 301h1v1h-1zM62 302h1v2h-1zM63 304h1v1h-1zM64 305h1v1h-1zM65 306h1v1h-1zM66 307h1v1h-1zM67 308h1v1h-1zM68 309h1v1h-1zM69 310h1v1h-1zM70 310h1v1h-1zM71 311h1v1h-1zM72 311h1v1h-1zM73 311h1v1h-1zM74 312h1v1h-1zM75 312h1v1h-1zM76 313h1v1h-1zM77 313h1v1h-1zM78 313h1v1h-1zM79 314h1v1h-1zM80 314h1v1h-1zM81 314h1v1h-1zM82 315h1v1h-1zM83 315h1v1h-1zM84 315h1v1h-1zM85 316h1v1h-1zM86 316h1v1h-1zM87 317h1v1h-1zM88 317h1v1h-1zM89 317h1v1h-1zM90 318h1v1h-1zM91 318h1v1h-1zM92 318h1v1h-1zM93 319h1v1h-1zM94 319h1v1h-1zM95 320h1v1h-1zM96 320h1v1h-1zM97 321h1v1h-1zM98 321h1v1h-1zM99 322h1v1h-1zM100 322h1v1h-1zM101 322h1v1h-1zM102 323h1v1h-1zM103 323h1v1h-1zM104 324h1v1h-1zM105 324h1v1h-1zM106 325h1v1h-1zM107 325h1v1h-1zM108 325h1v1h-1zM109 326h1v1h-1zM110 326h1v1h-1zM111 326h1v1h-1zM112 326h1v1h-1zM113 327h1v1h-1zM114 327h1v1h-1zM115 327h1v1h-1zM116 328h1v1h-1zM117 329h1v1h-1zM118 329h1v1h-1zM119 330h1v1h-1zM120 331h1v1h-1zM121 332h1v1h-1zM122 333h1v1h-1zM123 334h1v1h-1zM124 335h1v1h-1zM125 336h1v1h-1zM126 336h1v1h-1zM127 336h1v1h-1zM128 337h1v1h-1zM129 337h1v1h-1zM130 338h1v1h-1zM131 338h1v1h-1zM132 339h1v1h-1zM133 339h1v1h-1zM134 340h1v1h-1zM135 340h1v1h-1zM136 341h1v1h-1zM137 341h1v1h-1zM138 342h1v1h-1zM139 342h1v1h-1zM140 343h1v1h-1zM141 344h1v1h-1zM142 344h1v1h-1zM143 345h1v1h-1zM144 346h1v1h-1zM145 347h1v1h-1zM146 348h1v1h-1zM147 348h1v1h-1zM148 349h1v1h-1zM149 350h1v1h-1zM150 350h1v1h-1zM151 351h1v1h-1zM152 352h1v1h-1zM153 352h1v1h-1zM154 353h1v1h-1zM155 354h1v1h-1zM156 354h1v1h-1zM157 355h1v1h-1zM158 356h1v1h-1zM159 356h1v1h-1zM160 357h1v1h-1zM161 358h1v1h-1zM162 359h1v1h-1zM163 359h1v1h-1zM164 360h1v1h-1zM165 360h1v1h-1zM166 361h1v1h-1zM167 361h1v1h-1zM168 362h1v1h-1zM169 362h1v1h-1zM170 363h1v1h-1zM171 363h1v1h-1zM172 364h1v1h-1zM173 364h1v1h-1zM174 364h1v1h-1zM175 364h1v1h-1zM176 365h1v1h-1zM177 365h1v1h-1zM178 365h1v1h-1zM179 365h1v1h-1zM180 365h1v1h-1zM181 365h1v1h-1zM182 365h1v1h-1zM183 366h1v1h-1zM184 366h1v1h-1zM185 366h1v1h-1zM186 366h1v1h-1zM187 366h1v1h-1zM188 366h1v1h-1zM189 366h1v1h-1zM190 366h1v1h-1zM191 365h1v1h-1zM192 365h1v1h-1zM193 365h1v1h-1zM194 365h1v1h-1zM195 364h1v1h-1zM196 364h1v1h-1zM197 364h1v1h-1zM198 363h1v1h-1zM199 363h1v1h-1zM200 362h1v1h-1zM201 362h1v1h-1zM202 361h1v1h-1zM203 360h1v1h-1zM204 359h1v1h-1zM205 358h1v1h-1zM206 357h1v1h-1zM207 356h1v1h-1zM208 356h1v1h-1zM209 355h1v1h-1zM210 354h1v1h-1zM211 353h1v1h-1zM212 352h1v1h-1zM213 351h1v1h-1zM214 351h1v1h-1zM215 350h1v1h-1zM216 349h1v1h-1zM217 348h1v1h-1zM218 347h1v1h-1zM219 346h1v1h-1zM220 345h1v1h-1zM221 344h1v1h-1zM222 343h1v1h-1zM223 342h1v1h-1zM224 341h1v1h-1zM225 340h1v1h-1zM226 339h1v1h-1zM227 338h1v1h-1zM228 337h1v1h-1zM229 336h1v1h-1zM230 335h1v1h-1zM231 334h1v1h-1zM232 333h1v1h-1zM233 332h1v1h-1zM234 331h1v1h-1zM235 330h1v1h-1zM236 329h1v1h-1zM237 328h1v1h-1zM238 327h1v1h-1zM239 325h1v2h-1zM240 324h1v1h-1zM241 323h1v1h-1zM242 322h1v1h-1zM243 321h1v1h-1zM244 319h1v2h-1zM245 318h1v1h-1zM246 317h1v1h-1zM247 316h1v1h-1zM248 315h1v1h-1zM249 313h1v2h-1zM250 312h1v1h-1zM251 311h1v1h-1zM252 310h1v1h-1zM253 309h1v1h-1zM254 308h1v1h-1zM255 306h1v2h-1zM256 305h1v1h-1zM257 304h1v1h-1zM258 303h1v1h-1zM259 302h1v1h-1zM260 301h1v1h-1zM261 299h1v2h-1zM262 298h1v1h-1zM263 297h1v1h-1zM264 296h1v1h-1zM265 295h1v1h-1zM266 294h1v1h-1zM267 293h1v1h-1zM268 292h1v1h-1zM269 290h1v2h-1zM270 289h1v1h-1zM271 288h1v1h-1zM272 287h1v1h-1zM273 286h1v1h-1zM274 285h1v1h-1zM275 284h1v1h-1zM276 283h1v1h-1zM277 282h1v1h-1zM278 281h1v1h-1zM279 280h1v1h-1zM280 279h1v1h-1zM281 278h1v1h-1zM282 277h1v1h-1zM283 276h1v1h-1zM284 275h1v1h-1zM285 274h1v1h-1zM286 273h1v1h-1zM287 272h1v1h-1zM288 271h1v1h-1zM289 270h1v1h-1zM290 269h1v1h-1zM291 268h1v1h-1zM292 268h1v1h-1zM293 267h1v1h-1zM294 266h1v1h-1zM295 265h1v1h-1zM296 264h1v1h-1zM297 263h1v1h-1zM298 263h1v1h-1zM299 262h1v1h-1zM300 261h1v1h-1zM301 260h1v1h-1zM302 259h1v1h-1zM303 258h1v1h-1zM304 257h1v1h-1zM305 256h1v1h-1zM306 255h1v1h-1zM307 254h1v1h-1zM308 253h1v1h-1zM309 252h1v1h-1zM310 251h1v1h-1zM311 250h1v1h-1zM312 249h1v1h-1zM313 248h1v1h-1zM314 247h1v1h-1zM315 246h1v1h-1zM316 246h1v1h-1zM317 245h1v1h-1zM318 244h1v1h-1zM319 243h1v1h-1zM320 242h1v1h-1zM321 241h1v1h-1zM322 240h1v1h-1zM323 239h1v1h-1zM324 238h1v1h-1zM325 237h1v1h-1zM326 236h1v1h-1zM327 236h1v1h-1zM328 235h1v1h-1zM329 234h1v1h-1zM330 234h1v1h-1zM331 233h1v1h-1zM332 233h1v1h-1zM333 232h1v1h-1zM334 232h1v1h-1zM335 231h1v1h-1zM336 230h1v1h-1zM337 230h1v1h-1zM338 229h1v1h-1zM339 229h1v1h-1zM340 228h1v1h-1zM341 228h1v1h-1zM342 227h1v1h-1zM343 227h1v1h-1zM344 226h1v1h-1zM345 226h1v1h-1zM346 225h1v1h-1zM347 225h1v1h-1zM348 224h1v1h-1zM349 224h1v1h-1zM350 224h1v1h-1zM351 223h1v1h-1zM352 223h1v1h-1zM353 223h1v1h-1zM354 222h1v1h-1zM355 222h1v1h-1zM356 222h1v1h-1zM357 222h1v1h-1zM358 221h1v1h-1zM359 221h1v1h-1zM360 221h1v1h-1zM361 221h1v1h-1zM362 220h1v1h-1zM363 220h1v1h-1zM364 220h1v1h-1zM365 220h1v1h-1zM366 220h1v1h-1zM367 220h1v1h-1zM368 220h1v1h-1zM369 220h1v1h-1zM370 220h1v1h-1zM371 220h1v1h-1zM372 220h1v1h-1zM373 220h1v1h-1zM374 220h1v1h-1zM375 220h1v1h-1zM376 220h1v1h-1zM377 220h1v1h-1zM378 220h1v1h-1zM379 220h1v1h-1zM380 220h1v1h-1zM381 220h1v1h-1zM382 220h1v1h-1zM383 220h1v1h-1zM384 220h1v1h-1zM385 220h1v1h-1zM386 220h1v1h-1zM387 220h1v1h-1zM388 220h1v1h-1zM389 220h1v1h-1zM390 220h1v1h-1zM391 220h1v1h-1zM392 220h1v1h-1zM393 220h1v1h-1zM394 219h1v1h-1zM395 219h1v1h-1zM396 219h1v1h-1zM397 219h1v1h-1zM398 219h1v1h-1zM399 218h1v1h-1zM400 218h1v1h-1zM401 218h1v1h-1zM402 218h1v1h-1zM403 218h1v1h-1zM404 218h1v1h-1zM405 218h1v1h-1zM406 219h1v1h-1zM407 219h1v1h-1zM408 219h1v1h-1zM409 219h1v1h-1zM410 220h1v1h-1zM411 220h1v1h-1zM412 220h1v1h-1zM413 221h1v1h-1zM414 221h1v1h-1zM415 222h1v1h-1zM416 222h1v1h-1zM417 222h1v1h-1zM418 223h1v1h-1zM419 223h1v1h-1zM420 223h1v1h-1zM421 224h1v1h-1zM422 224h1v1h-1zM423 225h1v1h-1zM424 225h1v1h-1zM425 225h1v1h-1zM426 225h1v1h-1zM427 226h1v1h-1zM428 226h1v1h-1zM429 226h1v1h-1zM430 227h1v1h-1zM431 227h1v1h-1zM432 227h1v1h-1zM433 228h1v1h-1zM434 228h1v1h-1zM435 228h1v1h-1zM436 228h1v1h-1zM437 229h1v1h-1zM438 229h1v1h-1zM439 229h1v1h-1zM440 230h1v1h-1zM441 230h1v1h-1zM442 230h1v1h-1zM443 231h1v1h-1zM444 231h1v1h-1zM445 231h1v1h-1zM446 232h1v1h-1zM447 232h1v1h-1zM448 233h1v1h-1zM449 233h1v1h-1zM450 233h1v1h-1zM451 234h1v1h-1zM452 234h1v1h-1zM453 234h1v1h-1zM454 235h1v1h-1zM455 235h1v1h-1zM456 235h1v1h-1zM457 235h1v1h-1zM458 235h1v1h-1zM459 236h1v1h-1zM460 236h1v1h-1zM461 236h1v1h-1zM462 236h1v1h-1zM463 237h1v1h-1zM464 237h1v1h-1zM465 237h1v1h-1zM466 237h1v1h-1zM467 237h1v1h-1zM468 238h1v1h-1zM469 238h1v1h-1zM470 238h1v1h-1zM471 238h1v1h-1zM472 238h1v1h-1zM473 238h1v1h-1zM474 239h1v1h-1zM475 239h1v1h-1zM476 238h1v1h-1zM477 238h1v1h-1zM478 237h1v1h-1zM479 237h1v1h-1zM480 236h1v1h-1zM481 236h1v1h-1zM482 235h1v1h-1zM483 234h1v1h-1zM484 234h1v1h-1zM485 233h1v1h-1zM486 233h1v1h-1zM487 232h1v1h-1zM488 232h1v1h-1zM489 231h1v1h-1zM490 231h1v1h-1zM491 230h1v1h-1zM492 230h1v1h-1zM493 229h1v1h-1zM494 229h1v1h-1zM495 228h1v1h-1zM496 228h1v1h-1zM497 227h1v1h-1zM498 227h1v1h-1zM499 226h1v1h-1zM500 226h1v1h-1zM501 225h1v1h-1zM502 225h1v1h-1zM503 224h1v1h-1zM504 224h1v1h-1zM505 223h1v1h-1zM506 223h1v1h-1zM507 222h1v1h-1zM508 222h1v1h-1zM509 221h1v1h-1zM510 220h1v1h-1zM511 220h1v1h-1zM512 219h1v1h-1zM513 218h1v1h-1zM514 217h1v1h-1zM515 216h1v1h-1zM516 216h1v1h-1zM517 215h1v1h-1zM518 214h1v1h-1zM519 213h1v1h-1zM520 212h1v1h-1zM521 211h1v1h-1zM522 210h1v1h-1zM523 209h1v1h-1zM524 209h1v1h-1zM525 208h1v1h-1zM526 207h1v1h-1zM527 206h1v1h-1zM528 205h1v1h-1zM529 204h1v1h-1zM530 203h1v1h-1zM531 202h1v1h-1zM532 201h1v1h-1zM533 200h1v1h-1zM534 200h1v1h-1zM535 199h1v1h-1zM536 199h1v1h-1zM537 198h1v1h-1zM538 198h1v1h-1zM539 197h1v1h-1zM540 196h1v1h-1zM541 196h1v1h-1zM542 195h1v1h-1zM543 195h1v1h-1zM544 194h1v1h-1zM545 193h1v1h-1zM546 193h1v1h-1zM547 192h1v1h-1zM548 191h1v1h-1zM549 191h1v1h-1zM550 190h1v1h-1zM551 189h1v1h-1zM552 189h1v1h-1zM553 188h1v1h-1zM554 187h1v1h-1zM555 187h1v1h-1zM556 186h1v1h-1zM557 186h1v1h-1zM558 185h1v1h-1zM559 184h1v1h-1zM560 184h1v1h-1zM561 183h1v1h-1zM562 183h1v1h-1zM563 182h1v1h-1zM564 182h1v1h-1zM565 181h1v1h-1zM566 180h1v1h-1zM567 180h1v1h-1zM568 179h1v1h-1zM569 179h1v1h-1zM570 178h1v1h-1zM571 178h1v1h-1zM572 177h1v1h-1zM573 176h1v1h-1zM574 176h1v1h-1zM575 175h1v1h-1zM576 174h1v1h-1zM577 174h1v1h-1zM578 173h1v1h-1zM579 172h1v1h-1zM580 172h1v1h-1zM581 171h1v1h-1zM582 170h1v1h-1zM583 170h1v1h-1zM584 169h1v1h-1zM585 168h1v1h-1zM586 168h1v1h-1zM587 167h1v1h-1zM588 166h1v1h-1zM589 166h1v1h-1zM590 165h1v1h-1zM591 164h1v1h-1zM592 164h1v1h-1zM593 163h1v1h-1zM594 162h1v1h-1zM595 162h1v1h-1zM596 161h1v1h-1zM597 160h1v1h-1zM598 160h1v1h-1zM599 159h1v1h-1zM600 158h1v1h-1zM601 158h1v1h-1zM602 157h1v1h-1zM603 156h1v1h-1zM604 156h1v1h-1zM605 155h1v1h-1zM606 154h1v1h-1zM607 153h1v1h-1zM608 152h1v1h-1zM609 152h1v1h-1zM610 151h1v1h-1zM611 150h1v1h-1zM612 149h1v1h-1zM613 148h1v1h-1zM614 147h1v1h-1zM615 146h1v1h-1zM616 146h1v1h-1zM617 145h1v1h-1zM618 144h1v1h-1zM619 143h1v1h-1zM620 142h1v1h-1zM621 141h1v1h-1zM622 141h1v1h-1zM623 140h1v1h-1zM624 139h1v1h-1zM625 138h1v1h-1zM626 137h1v1h-1zM627 137h1v1h-1zM628 136h1v1h-1zM629 135h1v1h-1zM630 134h1v1h-1zM631 133h1v1h-1zM632 132h1v1h-1zM633 131h1v1h-1zM634 130h1v1h-1zM635 129h1v1h-1zM636 128h1v1h-1zM637 127h1v1h-1zM638 126h1v1h-1zM639 125h1v1h-1zM640 124h1v1h-1zM641 123h1v1h-1zM642 123h1v1h-1zM643 123h1v1h-1zM644 122h1v1h-1zM645 122h1v1h-1zM646 121h1v1h-1zM647 121h1v1h-1zM648 120h1v1h-1zM649 120h1v1h-1zM650 120h1v1h-1zM651 120h1v1h-1zM652 120h1v1h-1zM653 120h1v1h-1zM654 120h1v1h-1zM655 120h1v1h-1zM656 120h1v1h-1zM657 120h1v1h-1zM658 120h1v1h-1zM659 120h1v1h-1zM660 120h1v1h-1zM661 120h1v1h-1zM662 120h1v1h-1zM663 120h1v1h-1zM664 120h1v1h-1zM665 121h1v1h-1zM666 121h1v1h-1zM667 121h1v1h-1zM668 121h1v1h-1zM669 121h1v1h-1zM670 120h1v1h-1zM671 120h1v1h-1zM672 120h1v1h-1zM673 120h1v1h-1zM674 119h1v1h-1zM675 119h1v1h-1zM676 119h1v1h-1zM677 118h1v1h-1zM678 118h1v1h-1zM679 117h1v1h-1zM680 117h1v1h-1zM681 116h1v1h-1zM682 116h1v1h-1zM683 115h1v1h-1zM684 115h1v1h-1zM685 115h1v1h-1zM686 114h1v1h-1zM687 114h1v1h-1zM688 113h1v1h-1zM689 113h1v1h-1zM690 112h1v1h-1zM691 112h1v1h-1zM692 111h1v1h-1zM693 111h1v1h-1zM694 111h1v1h-1zM695 111h1v1h-1zM696 111h1v1h-1zM697 111h1v1h-1zM698 111h1v1h-1zM699 111h1v1h-1zM700 111h1v1h-1zM701 111h1v1h-1zM702 111h1v1h-1zM703 111h1v1h-1zM704 111h1v1h-1zM705 111h1v1h-1zM706 111h1v1h-1zM707 111h1v1h-1zM708 111h1v1h-1zM709 110h1v1h-1zM710 110h1v1h-1zM711 110h1v1h-1zM712 110h1v1h-1zM713 110h1v1h-1zM714 110h1v1h-1zM715 110h1v1h-1zM716 110h1v1h-1zM717 110h1v1h-1zM718 110h1v1h-1zM719 110h1v1h-1zM720 111h1v1h-1zM721 111h1v1h-1zM722 111h1v1h-1zM723 111h1v1h-1zM724 112h1v1h-1zM725 112h1v1h-1zM726 113h1v1h-1zM727 113h1v1h-1zM728 114h1v1h-1zM729 114h1v1h-1zM730 115h1v1h-1zM731 116h1v1h-1zM732 116h1v1h-1zM733 117h1v1h-1zM734 117h1v1h-1zM735 118h1v1h-1zM736 118h1v1h-1zM737 119h1v1h-1zM738 119h1v1h-1zM739 120h1v1h-1zM740 120h1v1h-1zM741 121h1v1h-1zM742 121h1v1h-1zM743 122h1v1h-1zM744 123h1v1h-1zM745 123h1v1h-1zM746 124h1v1h-1zM747 124h1v1h-1zM748 125h1v1h-1zM749 126h1v1h-1zM750 126h1v1h-1zM751 127h1v1h-1zM752 127h1v1h-1zM753 128h1v1h-1zM754 129h1v1h-1zM755 130h1v1h-1zM756 131h1v1h-1zM757 131h1v1h-1zM758 132h1v1h-1zM759 133h1v1h-1zM760 134h1v1h-1zM761 135h1v1h-1zM762 136h1v1h-1zM763 137h1v1h-1zM764 138h1v1h-1zM765 139h1v1h-1zM766 140h1v2h-1zM767 142h1v1h-1zM768 143h1v1h-1zM769 144h1v1h-1zM770 145h1v2h-1zM771 147h1v1h-1zM772 148h1v2h-1zM773 150h1v1h-1zM774 151h1v2h-1zM775 153h1v1h-1zM776 154h1v2h-1zM777 156h1v1h-1zM778 157h1v2h-1zM779 159h1v1h-1zM780 160h1v2h-1zM781 162h1v1h-1zM782 163h1v2h-1zM783 165h1v2h-1zM784 167h1v1h-1zM785 168h1v2h-1zM786 170h1v1h-1zM787 171h1v1h-1zM788 172h1v2h-1zM789 174h1v1h-1zM790 175h1v2h-1zM791 177h1v1h-1zM792 178h1v1h-1zM793 179h1v2h-1zM794 181h1v1h-1zM795 182h1v2h-1zM796 184h1v1h-1zM797 185h1v1h-1zM798 186h1v2h-1zM799 188h1v1h-1zM800 189h1v2h-1zM801 191h1v1h-1zM802 192h1v1h-1zM803 193h1v2h-1zM804 195h1v2h-1zM805 197h1v1h-1zM806 198h1v2h-1zM807 200h1v2h-1zM808 202h1v2h-1zM809 204h1v2h-1zM810 206h1v2h-1zM811 208h1v1h-1zM812 209h1v2h-1zM813 211h1v2h-1zM814 213h1v2h-1zM815 215h1v2h-1zM816 217h1v1h-1zM817 218h1v2h-1zM818 220h1v2h-1zM819 222h1v2h-1zM820 224h1v2h-1zM821 226h1v2h-1zM822 228h1v2h-1zM823 230h1v2h-1zM824 232h1v2h-1zM825 234h1v2h-1zM826 236h1v2h-1zM827 238h1v2h-1zM828 240h1v2h-1zM829 242h1v2h-1zM830 244h1v2h-1zM831 246h1v2h-1zM832 248h1v2h-1zM833 250h1v2h-1zM834 252h1v2h-1zM835 254h1v2h-1zM836 256h1v2h-1zM837 258h1v3h-1zM838 261h1v2h-1zM839 263h1v2h-1zM840 265h1v2h-1zM841 267h1v2h-1zM842 269h1v2h-1zM843 271h1v2h-1zM844 273h1v2h-1zM845 275h1v2h-1zM846 277h1v3h-1zM847 280h1v2h-1zM848 282h1v2h-1zM849 284h1v2h-1zM850 286h1v2h-1zM851 288h1v2h-1zM852 290h1v2h-1zM853 292h1v3h-1zM854 295h1v2h-1zM855 297h1v2h-1zM856 299h1v2h-1zM857 301h1v2h-1zM858 303h1v2h-1zM859 305h1v2h-1zM860 307h1v2h-1zM861 309h1v1h-1zM862 310h1v2h-1zM863 312h1v2h-1zM864 314h1v2h-1zM865 316h1v2h-1zM866 318h1v1h-1zM867 319h1v2h-1zM868 321h1v2h-1zM869 323h1v2h-1zM870 325h1v1h-1zM871 326h1v2h-1zM872 328h1v1h-1zM873 329h1v1h-1zM874 330h1v2h-1zM875 332h1v1h-1zM876 333h1v2h-1zM877 335h1v1h-1zM878 336h1v2h-1zM879 338h1v1h-1zM880 339h1v2h-1zM881 341h1v1h-1zM882 342h1v2h-1zM883 344h1v1h-1zM884 345h1v1h-1zM885 346h1v2h-1zM886 348h1v1h-1zM887 349h1v2h-1zM888 351h1v1h-1zM889 352h1v1h-1zM890 353h1v2h-1zM891 355h1v1h-1zM892 356h1v2h-1zM893 358h1v1h-1zM894 359h1v1h-1zM895 359h1v1h-1zM896 360h1v1h-1zM897 361h1v1h-1zM898 361h1v1h-1zM899 362h1v1h-1zM900 363h1v1h-1zM901 364h1v1h-1zM902 364h1v1h-1zM903 365h1v1h-1zM904 365h1v1h-1zM905 366h1v1h-1zM906 366h1v1h-1zM907 367h1v1h-1zM908 367h1v1h-1zM909 367h1v1h-1zM910 368h1v1h-1zM911 368h1v1h-1zM912 369h1v1h-1zM913 369h1v1h-1zM914 369h1v1h-1zM915 370h1v1h-1zM916 370h1v1h-1zM917 370h1v1h-1zM918 371h1v1h-1zM919 371h1v1h-1zM920 372h1v1h-1zM921 372h1v1h-1zM922 372h1v1h-1zM923 373h1v1h-1zM924 373h1v1h-1zM925 373h1v1h-1zM926 374h1v1h-1zM927 374h1v1h-1zM928 374h1v1h-1zM929 375h1v1h-1zM930 375h1v1h-1zM931 376h1v1h-1zM932 376h1v1h-1zM933 376h1v1h-1zM934 376h1v1h-1zM935 376h1v1h-1zM936 376h1v1h-1zM937 376h1v1h-1zM938 376h1v1h-1zM939 376h1v1h-1zM940 376h1v1h-1zM941 376h1v1h-1zM942 376h1v1h-1zM943 376h1v1h-1zM944 376h1v1h-1zM945 376h1v1h-1zM946 376h1v1h-1zM947 375h1v1h-1zM948 375h1v1h-1zM949 375h1v1h-1zM950 375h1v1h-1zM951 375h1v1h-1zM952 374h1v1h-1zM953 374h1v1h-1zM954 374h1v1h-1zM955 374h1v1h-1zM956 374h1v1h-1zM957 373h1v1h-1zM958 373h1v1h-1zM959 373h1v1h-1zM960 372h1v1h-1zM961 372h1v1h-1zM962 372h1v1h-1zM963 371h1v1h-1zM964 371h1v1h-1zM965 371h1v1h-1zM966 371h1v1h-1zM967 370h1v1h-1zM968 370h1v1h-1zM969 369h1v1h-1zM970 369h1v1h-1zM971 368h1v1h-1zM972 367h1v1h-1zM973 367h1v1h-1zM974 366h1v1h-1zM975 365h1v1h-1zM976 365h1v1h-1zM977 364h1v1h-1zM978 363h1v1h-1zM979 363h1v1h-1zM980 362h1v1h-1zM981 361h1v1h-1zM982 360h1v1h-1zM983 360h1v1h-1zM984 359h1v1h-1zM985 358h1v1h-1zM986 357h1v1h-1zM987 356h1v1h-1zM988 356h1v1h-1zM989 355h1v1h-1zM990 354h1v1h-1zM991 353h1v1h-1zM992 352h1v1h-1zM993 352h1v1h-1zM994 351h1v1h-1zM995 351h1v1h-1zM996 350h1v1h-1zM997 349h1v1h-1zM998 349h1v1h-1zM999 348h1v1h-1zM1000 348h1v1h-1zM1001 347h1v1h-1zM1002 346h1v1h-1zM1003 346h1v1h-1zM1004 345h1v1h-1zM1005 344h1v1h-1zM1006 344h1v1h-1zM1007 343h1v1h-1zM1008 342h1v1h-1zM1009 342h1v1h-1zM1010 341h1v1h-1zM1011 340h1v1h-1zM1012 340h1v1h-1zM1013 339h1v1h-1zM1014 338h1v1h-1zM1015 338h1v1h-1zM1016 337h1v1h-1zM1017 337h1v1h-1zM1018 336h1v1h-1zM1019 336h1v1h-1zM1020 335h1v1h-1zM1021 335h1v1h-1zM1022 334h1v1h-1zM1023 334h1v1h-1zM1024 333h1v1h-1zM1025 333h1v1h-1zM1026 332h1v1h-1zM1027 332h1v1h-1zM1028 331h1v1h-1zM1029 331h1v1h-1zM1030 331h1v1h-1zM1031 330h1v1h-1zM1032 330h1v1h-1zM1033 330h1v1h-1zM1034 329h1v1h-1zM1035 329h1v1h-1zM1036 329h1v1h-1zM1037 328h1v1h-1zM1038 328h1v1h-1zM1039 328h1v1h-1zM1040 327h1v1h-1zM1041 327h1v1h-1zM1042 327h1v1h-1zM1043 326h1v1h-1zM1044 326h1v1h-1zM1045 325h1v1h-1zM1046 325h1v1h-1zM1047 325h1v1h-1zM1048 324h1v1h-1zM1049 324h1v1h-1zM1050 323h1v1h-1zM1051 323h1v1h-1zM1052 323h1v1h-1zM1053 322h1v1h-1zM1054 322h1v1h-1zM1055 322h1v1h-1zM1056 321h1v1h-1zM1057 321h1v1h-1zM1058 321h1v1h-1zM1059 321h1v1h-1zM1060 321h1v1h-1zM1061 321h1v1h-1zM1062 321h1v1h-1zM1063 320h1v1h-1zM1064 320h1v1h-1zM1065 320h1v1h-1zM1066 320h1v1h-1zM1067 320h1v1h-1zM1068 320h1v1h-1zM1069 320h1v1h-1zM1070 320h1v1h-1zM1071 319h1v1h-1zM1072 319h1v1h-1zM1073 319h1v1h-1zM1074 319h1v1h-1zM1075 319h1v1h-1zM1076 319h1v1h-1zM1077 319h1v1h-1zM1078 319h1v1h-1zM1079 318h1v1h-1zM1080 318h1v1h-1zM1081 318h1v1h-1zM1082 318h1v1h-1zM1083 318h1v1h-1zM1084 318h1v1h-1zM1085 317h1v1h-1zM1086 317h1v1h-1zM1087 316h1v1h-1zM1088 316h1v1h-1zM1089 315h1v1h-1zM1090 315h1v1h-1zM1091 314h1v1h-1zM1092 314h1v1h-1zM1093 314h1v1h-1zM1094 313h1v1h-1zM1095 313h1v1h-1zM1096 312h1v1h-1zM1097 312h1v1h-1zM1098 311h1v1h-1zM1099 311h1v1h-1zM1100 310h1v1h-1zM1101 310h1v1h-1zM1102 309h1v1h-1zM1103 309h1v1h-1zM1104 308h1v1h-1zM1105 307h1v1h-1zM1106 306h1v1h-1zM1107 305h1v1h-1zM1108 305h1v1h-1zM1109 304h1v1h-1zM1110 303h1v1h-1zM1111 302h1v1h-1zM1112 301h1v1h-1zM1113 300h1v1h-1zM1114 300h1v1h-1zM1115 299h1v1h-1zM1116 298h1v1h-1zM1117 297h1v1h-1zM1118 297h1v1h-1zM1119 296h1v1h-1zM1120 295h1v1h-1zM1121 295h1v1h-1zM1122 294h1v1h-1zM1123 294h1v1h-1zM1124 293h1v1h-1zM1125 293h1v1h-1zM1126 292h1v1h-1zM1127 291h1v1h-1zM1128 291h1v1h-1zM1129 290h1v1h-1zM1130 290h1v1h-1zM1131 289h1v1h-1zM1132 289h1v1h-1zM1133 288h1v1h-1zM1134 288h1v1h-1zM1135 288h1v1h-1zM1136 287h1v1h-1zM1137 287h1v1h-1zM1138 287h1v1h-1zM1139 286h1v1h-1zM1140 286h1v1h-1zM1141 286h1v1h-1zM1142 285h1v1h-1zM1143 285h1v1h-1zM1144 284h1v1h-1zM1145 284h1v1h-1zM1146 284h1v1h-1zM1147 283h1v1h-1zM1148 283h1v1h-1zM1149 282h1v1h-1zM1150 282h1v1h-1zM1151 281h1v1h-1zM1152 280h1v1h-1zM1153 280h1v1h-1zM1154 279h1v1h-1zM1155 278h1v1h-1zM1156 278h1v1h-1zM1157 277h1v1h-1zM1158 276h1v1h-1zM1159 276h1v1h-1zM1160 275h1v1h-1zM1161 274h1v1h-1zM1162 273h1v1h-1zM1163 273h1v1h-1zM1164 272h1v1h-1zM1165 271h1v1h-1zM1166 271h1v1h-1zM1167 270h1v1h-1zM1168 269h1v1h-1zM1169 269h1v1h-1zM1170 268h1v1h-1zM1171 267h1v1h-1z" fill="#ffa500"/>
<rect x="4" y="68" width="1475" height="2" fill="#ff0000"/>
<rect x="4" y="169" width="1475" height="2" fill="#ff0000"/>
<rect x="4" y="257" width="1475" height="2" fill="#32cd32"/>
<rect x="4" y="346" width="1475" height="2" fill="#4169e1"/>
<rect x="4" y="435" width="1475" height="2" fill="#4169e1"/>
<text x="1079" y="131" font-size="36.5" fill="#ed1c24" stroke="#ed1c24" stroke-width="0.19" font-family="&quot;Liberation Sans&quot;, &quot;Noto Sans CJK SC&quot;, sans-serif" shape-rendering="geometricPrecision" text-rendering="geometricPrecision">多空转折点1815</text>
<rect x="3" y="6" width="1477" height="1" fill="#000"/>
<rect x="3" y="476" width="1477" height="1" fill="#000"/>
<rect x="3" y="6" width="1" height="471" fill="#000"/>
<rect x="1479" y="6" width="1" height="471" fill="#000"/>
<rect x="3" y="478" width="1477" height="1" fill="#000"/>
<rect x="3" y="627" width="1477" height="1" fill="#000"/>
<rect x="3" y="478" width="1" height="150" fill="#000"/>
<rect x="1479" y="478" width="1" height="150" fill="#000"/>
<rect x="3" y="629" width="1477" height="1" fill="#000"/>
<rect x="3" y="741" width="1477" height="1" fill="#000"/>
<rect x="3" y="629" width="1" height="113" fill="#000"/>
<rect x="1479" y="629" width="1" height="113" fill="#000"/>
<path d="M1178 7h10l-5 5.5z" fill="#708090" shape-rendering="geometricPrecision"/>
<path d="M7 13h7v1h-1v1h-1v1h-1v1h-1v-1h-1v-1h-1v-1h-1z" fill="#000"/>
<text transform="translate(19 17.6) scale(0.9448 1)" fill="#000" stroke="#000" stroke-width="0.22" font-size="10" text-rendering="geometricPrecision">XAUUSD-,H4</text>
<text transform="translate(82.6 17.6) scale(0.9200 1)" fill="#000" stroke="#000" stroke-width="0.22" font-size="10" text-rendering="geometricPrecision">1826.85 1827.68 1825.15 1825.92</text>
<rect x="1480" y="11" width="2" height="1" fill="#000"/>
<text transform="translate(1485.2 15) scale(0.8896 1)" fill="#000" stroke="#000" stroke-width="0.22" font-size="10" text-rendering="geometricPrecision">1856.75</text>
<rect x="1480" y="44" width="2" height="1" fill="#000"/>
<text transform="translate(1485.2 48) scale(0.8896 1)" fill="#000" stroke="#000" stroke-width="0.22" font-size="10" text-rendering="geometricPrecision">1851.20</text>
<rect x="1480" y="77" width="2" height="1" fill="#000"/>
<text transform="translate(1485.2 81) scale(0.8896 1)" fill="#000" stroke="#000" stroke-width="0.22" font-size="10" text-rendering="geometricPrecision">1845.65</text>
<rect x="1480" y="110" width="2" height="1" fill="#000"/>
<text transform="translate(1485.2 114) scale(0.8896 1)" fill="#000" stroke="#000" stroke-width="0.22" font-size="10" text-rendering="geometricPrecision">1840.10</text>
<rect x="1480" y="143" width="2" height="1" fill="#000"/>
<text transform="translate(1485.2 147) scale(0.8896 1)" fill="#000" stroke="#000" stroke-width="0.22" font-size="10" text-rendering="geometricPrecision">1834.55</text>
<rect x="1480" y="176" width="2" height="1" fill="#000"/>
<text transform="translate(1485.2 180) scale(0.8896 1)" fill="#000" stroke="#000" stroke-width="0.22" font-size="10" text-rendering="geometricPrecision">1828.85</text>
<rect x="1480" y="209" width="2" height="1" fill="#000"/>
<text transform="translate(1485.2 213) scale(0.8896 1)" fill="#000" stroke="#000" stroke-width="0.22" font-size="10" text-rendering="geometricPrecision">1823.30</text>
<rect x="1480" y="242" width="2" height="1" fill="#000"/>
<text transform="translate(1485.2 246) scale(0.8896 1)" fill="#000" stroke="#000" stroke-width="0.22" font-size="10" text-rendering="geometricPrecision">1817.75</text>
<rect x="1480" y="275" width="2" height="1" fill="#000"/>
<text transform="translate(1485.2 279) scale(0.8896 1)" fill="#000" stroke="#000" stroke-width="0.22" font-size="10" text-rendering="geometricPrecision">1812.20</text>
<rect x="1480" y="308" width="2" height="1" fill="#000"/>
<text transform="translate(1485.2 312) scale(0.8896 1)" fill="#000" stroke="#000" stroke-width="0.22" font-size="10" text-rendering="geometricPrecision">1806.65</text>
<rect x="1480" y="341" width="2" height="1" fill="#000"/>
<text transform="translate(1485.2 345) scale(0.8896 1)" fill="#000" stroke="#000" stroke-width="0.22" font-size="10" text-rendering="geometricPrecision">1800.95</text>
<rect x="1480" y="374" width="2" height="1" fill="#000"/>
<text transform="translate(1485.2 378) scale(0.8896 1)" fill="#000" stroke="#000" stroke-width="0.22" font-size="10" text-rendering="geometricPrecision">1795.40</text>
<rect x="1480" y="407" width="2" height="1" fill="#000"/>
<text transform="translate(1485.2 411) scale(0.8896 1)" fill="#000" stroke="#000" stroke-width="0.22" font-size="10" text-rendering="geometricPrecision">1789.85</text>
<rect x="1480" y="440" width="2" height="1" fill="#000"/>
<text transform="translate(1485.2 444) scale(0.8896 1)" fill="#000" stroke="#000" stroke-width="0.22" font-size="10" text-rendering="geometricPrecision">1784.30</text>
<rect x="1480" y="473" width="2" height="1" fill="#000"/>
<text transform="translate(1485.2 477) scale(0.8896 1)" fill="#000" stroke="#000" stroke-width="0.22" font-size="10" text-rendering="geometricPrecision">1778.75</text>
<rect x="1481" y="63" width="41" height="11" fill="#ff0000"/>
<text transform="translate(1485.2 72) scale(0.8896 1)" fill="#fff" stroke="#fff" stroke-width="0.22" font-size="10" text-rendering="geometricPrecision">1847.00</text>
<rect x="1481" y="164" width="41" height="11" fill="#ff0000"/>
<text transform="translate(1485.2 173) scale(0.8896 1)" fill="#fff" stroke="#fff" stroke-width="0.22" font-size="10" text-rendering="geometricPrecision">1830.00</text>
<rect x="1481" y="252" width="41" height="11" fill="#32cd32"/>
<text transform="translate(1485.2 261) scale(0.8896 1)" fill="#fff" stroke="#fff" stroke-width="0.22" font-size="10" text-rendering="geometricPrecision">1815.00</text>
<rect x="1481" y="341" width="41" height="11" fill="#4169e1"/>
<text transform="translate(1485.2 350) scale(0.8896 1)" fill="#fff" stroke="#fff" stroke-width="0.22" font-size="10" text-rendering="geometricPrecision">1800.00</text>
<rect x="1481" y="430" width="41" height="11" fill="#4169e1"/>
<text transform="translate(1485.2 439) scale(0.8896 1)" fill="#fff" stroke="#fff" stroke-width="0.22" font-size="10" text-rendering="geometricPrecision">1785.00</text>
<rect x="1481" y="189" width="41" height="11" fill="#000"/>
<text transform="translate(1485.2 198) scale(0.8896 1)" fill="#fff" stroke="#fff" stroke-width="0.22" font-size="10" text-rendering="geometricPrecision">1825.92</text>
<g id="macd">
<rect x="4" y="520" width="1" height="13" fill="#c0c0c0"/>
<rect x="12" y="522" width="1" height="11" fill="#c0c0c0"/>
<rect x="20" y="525" width="1" height="8" fill="#c0c0c0"/>
<rect x="28" y="531" width="1" height="2" fill="#c0c0c0"/>
<rect x="36" y="532" width="1" height="2" fill="#c0c0c0"/>
<rect x="44" y="532" width="1" height="10" fill="#c0c0c0"/>
<rect x="52" y="532" width="1" height="19" fill="#c0c0c0"/>
<rect x="60" y="532" width="1" height="28" fill="#c0c0c0"/>
<rect x="68" y="532" width="1" height="32" fill="#c0c0c0"/>
<rect x="76" y="532" width="1" height="34" fill="#c0c0c0"/>
<rect x="84" y="532" width="1" height="37" fill="#c0c0c0"/>
<rect x="92" y="532" width="1" height="37" fill="#c0c0c0"/>
<rect x="100" y="532" width="1" height="39" fill="#c0c0c0"/>
<rect x="108" y="532" width="1" height="36" fill="#c0c0c0"/>
<rect x="116" y="532" width="1" height="34" fill="#c0c0c0"/>
<rect x="124" y="532" width="1" height="34" fill="#c0c0c0"/>
<rect x="132" y="532" width="1" height="32" fill="#c0c0c0"/>
<rect x="140" y="532" width="1" height="27" fill="#c0c0c0"/>
<rect x="148" y="532" width="1" height="27" fill="#c0c0c0"/>
<rect x="156" y="532" width="1" height="22" fill="#c0c0c0"/>
<rect x="164" y="532" width="1" height="18" fill="#c0c0c0"/>
<rect x="172" y="532" width="1" height="11" fill="#c0c0c0"/>
<rect x="180" y="532" width="1" height="5" fill="#c0c0c0"/>
<rect x="188" y="532" width="1" height="1" fill="#c0c0c0"/>
<rect x="196" y="528" width="1" height="5" fill="#c0c0c0"/>
<rect x="204" y="519" width="1" height="14" fill="#c0c0c0"/>
<rect x="212" y="512" width="1" height="21" fill="#c0c0c0"/>
<rect x="220" y="508" width="1" height="25" fill="#c0c0c0"/>
<rect x="228" y="505" width="1" height="28" fill="#c0c0c0"/>
<rect x="236" y="504" width="1" height="29" fill="#c0c0c0"/>
<rect x="244" y="499" width="1" height="34" fill="#c0c0c0"/>
<rect x="252" y="494" width="1" height="39" fill="#c0c0c0"/>
<rect x="260" y="492" width="1" height="41" fill="#c0c0c0"/>
<rect x="268" y="491" width="1" height="42" fill="#c0c0c0"/>
<rect x="276" y="489" width="1" height="44" fill="#c0c0c0"/>
<rect x="284" y="490" width="1" height="43" fill="#c0c0c0"/>
<rect x="292" y="496" width="1" height="37" fill="#c0c0c0"/>
<rect x="300" y="498" width="1" height="35" fill="#c0c0c0"/>
<rect x="308" y="500" width="1" height="33" fill="#c0c0c0"/>
<rect x="316" y="499" width="1" height="34" fill="#c0c0c0"/>
<rect x="324" y="499" width="1" height="34" fill="#c0c0c0"/>
<rect x="332" y="501" width="1" height="32" fill="#c0c0c0"/>
<rect x="340" y="503" width="1" height="30" fill="#c0c0c0"/>
<rect x="348" y="507" width="1" height="26" fill="#c0c0c0"/>
<rect x="356" y="512" width="1" height="21" fill="#c0c0c0"/>
<rect x="364" y="514" width="1" height="19" fill="#c0c0c0"/>
<rect x="372" y="515" width="1" height="18" fill="#c0c0c0"/>
<rect x="380" y="516" width="1" height="17" fill="#c0c0c0"/>
<rect x="388" y="518" width="1" height="15" fill="#c0c0c0"/>
<rect x="396" y="519" width="1" height="14" fill="#c0c0c0"/>
<rect x="404" y="521" width="1" height="12" fill="#c0c0c0"/>
<rect x="412" y="524" width="1" height="9" fill="#c0c0c0"/>
<rect x="420" y="526" width="1" height="7" fill="#c0c0c0"/>
<rect x="428" y="530" width="1" height="3" fill="#c0c0c0"/>
<rect x="436" y="529" width="1" height="4" fill="#c0c0c0"/>
<rect x="444" y="532" width="1" height="1" fill="#c0c0c0"/>
<rect x="452" y="532" width="1" height="1" fill="#c0c0c0"/>
<rect x="460" y="532" width="1" height="2" fill="#c0c0c0"/>
<rect x="468" y="532" width="1" height="6" fill="#c0c0c0"/>
<rect x="476" y="532" width="1" height="4" fill="#c0c0c0"/>
<rect x="484" y="525" width="1" height="8" fill="#c0c0c0"/>
<rect x="492" y="513" width="1" height="20" fill="#c0c0c0"/>
<rect x="500" y="506" width="1" height="27" fill="#c0c0c0"/>
<rect x="508" y="500" width="1" height="33" fill="#c0c0c0"/>
<rect x="516" y="496" width="1" height="37" fill="#c0c0c0"/>
<rect x="524" y="493" width="1" height="40" fill="#c0c0c0"/>
<rect x="532" y="488" width="1" height="45" fill="#c0c0c0"/>
<rect x="540" y="487" width="1" height="46" fill="#c0c0c0"/>
<rect x="548" y="488" width="1" height="45" fill="#c0c0c0"/>
<rect x="556" y="488" width="1" height="45" fill="#c0c0c0"/>
<rect x="564" y="490" width="1" height="43" fill="#c0c0c0"/>
<rect x="572" y="496" width="1" height="37" fill="#c0c0c0"/>
<rect x="580" y="499" width="1" height="34" fill="#c0c0c0"/>
<rect x="588" y="504" width="1" height="29" fill="#c0c0c0"/>
<rect x="596" y="506" width="1" height="27" fill="#c0c0c0"/>
<rect x="604" y="507" width="1" height="26" fill="#c0c0c0"/>
<rect x="612" y="507" width="1" height="26" fill="#c0c0c0"/>
<rect x="620" y="508" width="1" height="25" fill="#c0c0c0"/>
<rect x="628" y="510" width="1" height="23" fill="#c0c0c0"/>
<rect x="636" y="510" width="1" height="23" fill="#c0c0c0"/>
<rect x="644" y="508" width="1" height="25" fill="#c0c0c0"/>
<rect x="652" y="508" width="1" height="25" fill="#c0c0c0"/>
<rect x="660" y="508" width="1" height="25" fill="#c0c0c0"/>
<rect x="668" y="510" width="1" height="23" fill="#c0c0c0"/>
<rect x="676" y="508" width="1" height="25" fill="#c0c0c0"/>
<rect x="684" y="502" width="1" height="31" fill="#c0c0c0"/>
<rect x="692" y="500" width="1" height="33" fill="#c0c0c0"/>
<rect x="700" y="500" width="1" height="33" fill="#c0c0c0"/>
<rect x="708" y="502" width="1" height="31" fill="#c0c0c0"/>
<rect x="716" y="505" width="1" height="28" fill="#c0c0c0"/>
<rect x="724" y="512" width="1" height="21" fill="#c0c0c0"/>
<rect x="732" y="526" width="1" height="7" fill="#c0c0c0"/>
<rect x="740" y="532" width="1" height="1" fill="#c0c0c0"/>
<rect x="748" y="532" width="1" height="13" fill="#c0c0c0"/>
<rect x="756" y="532" width="1" height="24" fill="#c0c0c0"/>
<rect x="764" y="532" width="1" height="32" fill="#c0c0c0"/>
<rect x="772" y="532" width="1" height="46" fill="#c0c0c0"/>
<rect x="780" y="532" width="1" height="58" fill="#c0c0c0"/>
<rect x="788" y="532" width="1" height="65" fill="#c0c0c0"/>
<rect x="796" y="532" width="1" height="68" fill="#c0c0c0"/>
<rect x="804" y="532" width="1" height="72" fill="#c0c0c0"/>
<rect x="812" y="532" width="1" height="79" fill="#c0c0c0"/>
<rect x="820" y="532" width="1" height="86" fill="#c0c0c0"/>
<rect x="828" y="532" width="1" height="88" fill="#c0c0c0"/>
<rect x="836" y="532" width="1" height="87" fill="#c0c0c0"/>
<rect x="844" y="532" width="1" height="87" fill="#c0c0c0"/>
<rect x="852" y="532" width="1" height="84" fill="#c0c0c0"/>
<rect x="860" y="532" width="1" height="79" fill="#c0c0c0"/>
<rect x="868" y="532" width="1" height="73" fill="#c0c0c0"/>
<rect x="876" y="532" width="1" height="66" fill="#c0c0c0"/>
<rect x="884" y="532" width="1" height="60" fill="#c0c0c0"/>
<rect x="892" y="532" width="1" height="55" fill="#c0c0c0"/>
<rect x="900" y="532" width="1" height="47" fill="#c0c0c0"/>
<rect x="908" y="532" width="1" height="38" fill="#c0c0c0"/>
<rect x="916" y="532" width="1" height="32" fill="#c0c0c0"/>
<rect x="924" y="532" width="1" height="30" fill="#c0c0c0"/>
<rect x="932" y="532" width="1" height="27" fill="#c0c0c0"/>
<rect x="940" y="532" width="1" height="26" fill="#c0c0c0"/>
<rect x="948" y="532" width="1" height="26" fill="#c0c0c0"/>
<rect x="956" y="532" width="1" height="22" fill="#c0c0c0"/>
<rect x="964" y="532" width="1" height="15" fill="#c0c0c0"/>
<rect x="972" y="532" width="1" height="10" fill="#c0c0c0"/>
<rect x="980" y="532" width="1" height="6" fill="#c0c0c0"/>
<rect x="988" y="532" width="1" height="4" fill="#c0c0c0"/>
<rect x="996" y="532" width="1" height="3" fill="#c0c0c0"/>
<rect x="1004" y="532" width="1" height="2" fill="#c0c0c0"/>
<rect x="1012" y="532" width="1" height="2" fill="#c0c0c0"/>
<rect x="1020" y="532" width="1" height="1" fill="#c0c0c0"/>
<rect x="1028" y="532" width="1" height="1" fill="#c0c0c0"/>
<rect x="1036" y="532" width="1" height="1" fill="#c0c0c0"/>
<rect x="1044" y="531" width="1" height="2" fill="#c0c0c0"/>
<rect x="1052" y="527" width="1" height="6" fill="#c0c0c0"/>
<rect x="1060" y="529" width="1" height="4" fill="#c0c0c0"/>
<rect x="1068" y="528" width="1" height="5" fill="#c0c0c0"/>
<rect x="1076" y="526" width="1" height="7" fill="#c0c0c0"/>
<rect x="1084" y="525" width="1" height="8" fill="#c0c0c0"/>
<rect x="1092" y="522" width="1" height="11" fill="#c0c0c0"/>
<rect x="1100" y="520" width="1" height="13" fill="#c0c0c0"/>
<rect x="1108" y="517" width="1" height="16" fill="#c0c0c0"/>
<rect x="1116" y="512" width="1" height="21" fill="#c0c0c0"/>
<rect x="1124" y="508" width="1" height="25" fill="#c0c0c0"/>
<rect x="1132" y="505" width="1" height="28" fill="#c0c0c0"/>
<rect x="1140" y="505" width="1" height="28" fill="#c0c0c0"/>
<rect x="1148" y="506" width="1" height="27" fill="#c0c0c0"/>
<rect x="1156" y="503" width="1" height="30" fill="#c0c0c0"/>
<rect x="1164" y="500" width="1" height="33" fill="#c0c0c0"/>
<rect x="1172" y="497" width="1" height="36" fill="#c0c0c0"/>
<path d="M569 491h2v1h-2zM574 491h3v1h-3zM580 491h3v1h-3zM563 492h2v1h-2zM568 492h1v1h-1zM586 492h3v1h-3zM592 492h1v1h-1zM305 493h2v1h-2zM310 493h3v1h-3zM316 493h3v1h-3zM562 493h1v1h-1zM593 493h2v1h-2zM598 493h1v1h-1zM298 494h3v1h-3zM304 494h1v1h-1zM322 494h3v1h-3zM328 494h1v1h-1zM556 494h3v1h-3zM599 494h2v1h-2zM292 495h3v1h-3zM329 495h2v1h-2zM334 495h3v1h-3zM604 495h3v1h-3zM286 496h3v1h-3zM340 496h3v1h-3zM552 496h1v1h-1zM610 496h1v1h-1zM280 497h3v1h-3zM346 497h1v1h-1zM550 497h2v1h-2zM611 497h2v1h-2zM275 498h2v1h-2zM347 498h2v1h-2zM616 498h1v1h-1zM274 499h1v1h-1zM352 499h1v1h-1zM617 499h2v1h-2zM270 500h1v1h-1zM353 500h2v1h-2zM545 500h2v1h-2zM622 500h1v1h-1zM268 501h2v1h-2zM358 501h1v1h-1zM544 501h1v1h-1zM623 501h2v1h-2zM359 502h2v1h-2zM628 502h3v1h-3zM264 503h1v1h-1zM364 503h3v1h-3zM634 503h1v1h-1zM262 504h2v1h-2zM370 504h1v1h-1zM540 504h1v1h-1zM635 504h2v1h-2zM706 504h3v1h-3zM712 504h3v1h-3zM718 504h3v1h-3zM724 504h3v1h-3zM371 505h2v1h-2zM376 505h1v1h-1zM538 505h2v1h-2zM640 505h3v1h-3zM700 505h3v1h-3zM730 505h1v1h-1zM258 506h1v1h-1zM377 506h2v1h-2zM382 506h1v1h-1zM646 506h3v1h-3zM689 506h2v1h-2zM694 506h3v1h-3zM731 506h2v1h-2zM256 507h2v1h-2zM383 507h2v1h-2zM652 507h3v1h-3zM658 507h3v1h-3zM664 507h3v1h-3zM670 507h3v1h-3zM676 507h3v1h-3zM682 507h3v1h-3zM688 507h1v1h-1zM736 507h1v1h-1zM1166 507h3v1h-3zM388 508h2v1h-2zM533 508h2v1h-2zM737 508h2v1h-2zM1160 508h3v1h-3zM252 509h1v1h-1zM390 509h1v1h-1zM532 509h1v1h-1zM1155 509h2v1h-2zM250 510h2v1h-2zM394 510h1v1h-1zM742 510h2v1h-2zM1154 510h1v1h-1zM395 511h2v1h-2zM744 511h1v1h-1zM1150 511h1v1h-1zM400 512h3v1h-3zM1148 512h2v1h-2zM245 513h2v1h-2zM406 513h1v1h-1zM527 513h2v1h-2zM748 513h1v1h-1zM244 514h1v1h-1zM407 514h2v1h-2zM526 514h1v1h-1zM749 514h2v1h-2zM1142 514h3v1h-3zM412 515h3v1h-3zM418 516h1v1h-1zM1136 516h3v1h-3zM240 517h1v1h-1zM419 517h2v1h-2zM424 517h1v1h-1zM522 517h1v1h-1zM754 517h1v1h-1zM1131 517h2v1h-2zM239 518h1v1h-1zM425 518h2v1h-2zM520 518h2v1h-2zM755 518h1v1h-1zM1130 518h1v1h-1zM238 519h1v1h-1zM430 519h3v1h-3zM756 519h1v1h-1zM1126 519h1v1h-1zM516 520h1v1h-1zM1124 520h2v1h-2zM436 521h3v1h-3zM514 521h2v1h-2zM1119 521h2v1h-2zM233 522h2v1h-2zM442 522h1v1h-1zM1118 522h1v1h-1zM232 523h1v1h-1zM443 523h2v1h-2zM448 523h1v1h-1zM510 523h1v1h-1zM760 523h1v1h-1zM1112 523h3v1h-3zM449 524h2v1h-2zM508 524h2v1h-2zM761 524h1v1h-1zM1107 524h2v1h-2zM454 525h3v1h-3zM762 525h1v1h-1zM1106 525h1v1h-1zM28 526h3v1h-3zM34 526h3v1h-3zM40 526h1v1h-1zM228 526h1v1h-1zM502 526h3v1h-3zM1100 526h3v1h-3zM17 527h2v1h-2zM22 527h3v1h-3zM41 527h2v1h-2zM226 527h2v1h-2zM460 527h3v1h-3zM1094 527h3v1h-3zM10 528h3v1h-3zM16 528h1v1h-1zM46 528h3v1h-3zM466 528h1v1h-1zM496 528h3v1h-3zM1088 528h3v1h-3zM4 529h3v1h-3zM222 529h1v1h-1zM467 529h2v1h-2zM491 529h2v1h-2zM766 529h1v1h-1zM1082 529h3v1h-3zM52 530h2v1h-2zM220 530h2v1h-2zM472 530h3v1h-3zM490 530h1v1h-1zM767 530h1v1h-1zM1076 530h3v1h-3zM54 531h1v1h-1zM478 531h3v1h-3zM484 531h3v1h-3zM768 531h1v1h-1zM1065 531h2v1h-2zM1070 531h3v1h-3zM58 532h1v1h-1zM1052 532h3v1h-3zM1058 532h3v1h-3zM1064 532h1v1h-1zM59 533h2v1h-2zM216 533h1v1h-1zM1046 533h3v1h-3zM215 534h1v1h-1zM1040 534h3v1h-3zM214 535h1v1h-1zM772 535h1v1h-1zM1035 535h2v1h-2zM64 536h1v1h-1zM773 536h1v1h-1zM1034 536h1v1h-1zM65 537h2v1h-2zM774 537h1v1h-1zM1028 537h3v1h-3zM209 538h2v1h-2zM1023 538h2v1h-2zM208 539h1v1h-1zM1022 539h1v1h-1zM70 540h1v1h-1zM1017 540h2v1h-2zM71 541h2v1h-2zM777 541h1v1h-1zM1016 541h1v1h-1zM204 542h1v1h-1zM778 542h1v1h-1zM1011 542h2v1h-2zM202 543h2v1h-2zM778 543h1v1h-1zM1010 543h1v1h-1zM76 544h1v1h-1zM1006 544h1v1h-1zM77 545h2v1h-2zM198 545h1v1h-1zM1004 545h2v1h-2zM196 546h2v1h-2zM999 546h2v1h-2zM782 547h1v1h-1zM998 547h1v1h-1zM82 548h2v1h-2zM783 548h1v1h-1zM992 548h3v1h-3zM84 549h1v1h-1zM192 549h1v1h-1zM784 549h1v1h-1zM988 549h1v1h-1zM191 550h1v1h-1zM986 550h2v1h-2zM88 551h1v1h-1zM190 551h1v1h-1zM89 552h1v1h-1zM982 552h1v1h-1zM90 553h1v1h-1zM184 553h3v1h-3zM787 553h1v1h-1zM980 553h2v1h-2zM180 554h1v1h-1zM788 554h1v1h-1zM94 555h1v1h-1zM178 555h2v1h-2zM789 555h1v1h-1zM976 555h1v1h-1zM95 556h2v1h-2zM974 556h2v1h-2zM173 558h2v1h-2zM970 558h1v1h-1zM100 559h2v1h-2zM172 559h1v1h-1zM792 559h1v1h-1zM968 559h2v1h-2zM102 560h1v1h-1zM793 560h1v1h-1zM106 561h1v1h-1zM166 561h3v1h-3zM794 561h1v1h-1zM964 561h1v1h-1zM107 562h2v1h-2zM962 562h2v1h-2zM112 563h1v1h-1zM160 563h3v1h-3zM113 564h2v1h-2zM155 564h2v1h-2zM118 565h1v1h-1zM154 565h1v1h-1zM797 565h1v1h-1zM957 565h2v1h-2zM119 566h2v1h-2zM148 566h3v1h-3zM798 566h1v1h-1zM956 566h1v1h-1zM124 567h3v1h-3zM130 567h3v1h-3zM136 567h3v1h-3zM142 567h3v1h-3zM799 567h1v1h-1zM952 568h1v1h-1zM950 569h2v1h-2zM802 571h1v1h-1zM946 571h1v1h-1zM803 572h1v1h-1zM944 572h2v1h-2zM804 573h1v1h-1zM940 574h1v1h-1zM938 575h2v1h-2zM807 577h1v1h-1zM808 578h1v1h-1zM933 578h2v1h-2zM809 579h1v1h-1zM932 579h1v1h-1zM928 582h1v1h-1zM812 583h1v1h-1zM927 583h1v1h-1zM813 584h1v1h-1zM926 584h1v1h-1zM814 585h1v1h-1zM921 587h2v1h-2zM920 588h1v1h-1zM818 589h1v1h-1zM819 590h1v1h-1zM820 591h1v1h-1zM916 591h1v1h-1zM915 592h1v1h-1zM914 593h1v1h-1zM824 594h1v1h-1zM825 595h1v1h-1zM826 596h1v1h-1zM909 596h2v1h-2zM908 597h1v1h-1zM830 600h1v1h-1zM904 600h1v1h-1zM831 601h2v1h-2zM903 601h1v1h-1zM902 602h1v1h-1zM898 604h1v1h-1zM836 605h2v1h-2zM896 605h2v1h-2zM838 606h1v1h-1zM892 607h1v1h-1zM842 608h2v1h-2zM890 608h2v1h-2zM844 609h1v1h-1zM848 609h1v1h-1zM849 610h2v1h-2zM886 610h1v1h-1zM854 611h3v1h-3zM884 611h2v1h-2zM878 612h3v1h-3zM860 613h3v1h-3zM872 613h3v1h-3zM866 614h3v1h-3z" fill="#ff0000"/>
</g>
<text transform="translate(8.2 491) scale(0.9476 1)" fill="#000" stroke="#000" stroke-width="0.22" font-size="10" text-rendering="geometricPrecision">MACD(12,26,9) 5.097 3.936</text>
<text transform="translate(1482.8 488.8) scale(0.8970 1)" fill="#000" stroke="#000" stroke-width="0.22" font-size="10" text-rendering="geometricPrecision">7.681</text>
<text transform="translate(1482.8 535.6) scale(0.8970 1)" fill="#000" stroke="#000" stroke-width="0.22" font-size="10" text-rendering="geometricPrecision">0.00</text>
<text transform="translate(1483 624.2) scale(0.8970 1)" fill="#000" stroke="#000" stroke-width="0.22" font-size="10" text-rendering="geometricPrecision">-14.026</text>
<rect x="1480" y="532" width="1" height="1" fill="#000"/>
<rect x="1480" y="480" width="1" height="1" fill="#000"/>
<rect x="1480" y="631" width="1" height="1" fill="#000"/>
<rect x="1480" y="741" width="1" height="1" fill="#000"/>
<path d="M5 663.5H1479" stroke="#c0c0c0" stroke-width="1" stroke-dasharray="3 3" fill="none"/>
<path d="M5 707.5H1479" stroke="#c0c0c0" stroke-width="1" stroke-dasharray="3 3" fill="none"/>
<path d="M491 662h2v1h-2zM532 662h1v1h-1zM489 663h2v1h-2zM493 663h2v1h-2zM531 663h1v1h-1zM533 663h1v1h-1zM486 664h3v1h-3zM495 664h1v1h-1zM529 664h2v1h-2zM534 664h1v1h-1zM1116 664h5v1h-5zM1163 664h6v1h-6zM252 665h2v1h-2zM484 665h2v1h-2zM496 665h1v1h-1zM528 665h1v1h-1zM534 665h1v1h-1zM1115 665h1v1h-1zM1121 665h12v1h-12zM1159 665h4v1h-4zM1169 665h3v1h-3zM250 666h2v1h-2zM254 666h2v1h-2zM484 666h1v1h-1zM497 666h2v1h-2zM527 666h1v1h-1zM535 666h1v1h-1zM1114 666h1v1h-1zM1133 666h1v1h-1zM1156 666h3v1h-3zM248 667h2v1h-2zM256 667h2v1h-2zM483 667h1v1h-1zM499 667h1v1h-1zM505 667h8v1h-8zM525 667h2v1h-2zM536 667h1v1h-1zM1113 667h1v1h-1zM1134 667h1v1h-1zM1155 667h1v1h-1zM246 668h2v1h-2zM258 668h2v1h-2zM273 668h5v1h-5zM483 668h1v1h-1zM500 668h5v1h-5zM513 668h12v1h-12zM537 668h1v1h-1zM684 668h2v1h-2zM1111 668h2v1h-2zM1134 668h1v1h-1zM1154 668h1v1h-1zM204 669h10v1h-10zM244 669h2v1h-2zM260 669h13v1h-13zM278 669h2v1h-2zM482 669h1v1h-1zM538 669h1v1h-1zM682 669h2v1h-2zM686 669h3v1h-3zM1110 669h1v1h-1zM1135 669h1v1h-1zM1153 669h1v1h-1zM203 670h1v1h-1zM214 670h3v1h-3zM242 670h2v1h-2zM280 670h2v1h-2zM482 670h1v1h-1zM538 670h1v1h-1zM680 670h2v1h-2zM689 670h2v1h-2zM1109 670h1v1h-1zM1136 670h1v1h-1zM1152 670h1v1h-1zM202 671h1v1h-1zM217 671h2v1h-2zM241 671h1v1h-1zM282 671h2v1h-2zM481 671h1v1h-1zM539 671h1v1h-1zM678 671h2v1h-2zM691 671h3v1h-3zM1107 671h2v1h-2zM1137 671h1v1h-1zM1151 671h1v1h-1zM4 672h1v1h-1zM201 672h1v1h-1zM219 672h6v1h-6zM239 672h2v1h-2zM284 672h1v1h-1zM481 672h1v1h-1zM540 672h5v1h-5zM553 672h5v1h-5zM676 672h2v1h-2zM694 672h2v1h-2zM1105 672h2v1h-2zM1138 672h1v1h-1zM1150 672h1v1h-1zM5 673h1v1h-1zM199 673h2v1h-2zM225 673h8v1h-8zM237 673h2v1h-2zM285 673h1v1h-1zM321 673h4v1h-4zM480 673h1v1h-1zM545 673h8v1h-8zM558 673h2v1h-2zM644 673h3v1h-3zM675 673h1v1h-1zM696 673h2v1h-2zM1102 673h3v1h-3zM1138 673h1v1h-1zM1149 673h1v1h-1zM5 674h1v1h-1zM198 674h1v1h-1zM233 674h4v1h-4zM285 674h1v1h-1zM316 674h5v1h-5zM325 674h2v1h-2zM480 674h1v1h-1zM560 674h2v1h-2zM642 674h2v1h-2zM647 674h4v1h-4zM674 674h1v1h-1zM698 674h2v1h-2zM1097 674h5v1h-5zM1139 674h1v1h-1zM1145 674h4v1h-4zM6 675h1v1h-1zM197 675h1v1h-1zM286 675h1v1h-1zM314 675h2v1h-2zM327 675h1v1h-1zM480 675h1v1h-1zM562 675h2v1h-2zM641 675h1v1h-1zM651 675h4v1h-4zM673 675h1v1h-1zM700 675h2v1h-2zM1052 675h1v1h-1zM1092 675h5v1h-5zM1140 675h5v1h-5zM6 676h1v1h-1zM196 676h1v1h-1zM286 676h1v1h-1zM312 676h2v1h-2zM328 676h1v1h-1zM479 676h1v1h-1zM564 676h1v1h-1zM639 676h2v1h-2zM655 676h4v1h-4zM672 676h1v1h-1zM702 676h2v1h-2zM1051 676h1v1h-1zM1053 676h1v1h-1zM1090 676h2v1h-2zM7 677h1v1h-1zM179 677h3v1h-3zM194 677h2v1h-2zM287 677h1v1h-1zM310 677h2v1h-2zM329 677h2v1h-2zM479 677h1v1h-1zM565 677h1v1h-1zM611 677h10v1h-10zM637 677h2v1h-2zM659 677h3v1h-3zM672 677h1v1h-1zM704 677h2v1h-2zM1049 677h2v1h-2zM1053 677h1v1h-1zM1088 677h2v1h-2zM7 678h1v1h-1zM177 678h2v1h-2zM182 678h3v1h-3zM192 678h2v1h-2zM288 678h1v1h-1zM300 678h10v1h-10zM331 678h1v1h-1zM478 678h1v1h-1zM566 678h1v1h-1zM607 678h4v1h-4zM621 678h2v1h-2zM636 678h1v1h-1zM662 678h2v1h-2zM671 678h1v1h-1zM706 678h2v1h-2zM1048 678h1v1h-1zM1054 678h1v1h-1zM1086 678h2v1h-2zM8 679h1v1h-1zM174 679h3v1h-3zM185 679h2v1h-2zM190 679h2v1h-2zM288 679h1v1h-1zM299 679h1v1h-1zM332 679h3v1h-3zM478 679h1v1h-1zM567 679h2v1h-2zM603 679h4v1h-4zM623 679h2v1h-2zM634 679h2v1h-2zM664 679h2v1h-2zM670 679h1v1h-1zM708 679h5v1h-5zM1047 679h1v1h-1zM1055 679h1v1h-1zM1076 679h10v1h-10zM9 680h1v1h-1zM172 680h2v1h-2zM187 680h3v1h-3zM289 680h1v1h-1zM298 680h1v1h-1zM335 680h4v1h-4zM371 680h6v1h-6zM477 680h1v1h-1zM569 680h1v1h-1zM579 680h3v1h-3zM599 680h4v1h-4zM625 680h1v1h-1zM632 680h2v1h-2zM666 680h2v1h-2zM669 680h1v1h-1zM713 680h4v1h-4zM964 680h5v1h-5zM1045 680h2v1h-2zM1055 680h1v1h-1zM1074 680h2v1h-2zM9 681h1v1h-1zM170 681h2v1h-2zM290 681h1v1h-1zM297 681h1v1h-1zM339 681h3v1h-3zM369 681h2v1h-2zM377 681h5v1h-5zM477 681h1v1h-1zM570 681h1v1h-1zM577 681h2v1h-2zM582 681h2v1h-2zM595 681h4v1h-4zM626 681h2v1h-2zM630 681h2v1h-2zM668 681h1v1h-1zM717 681h1v1h-1zM963 681h1v1h-1zM969 681h16v1h-16zM1041 681h4v1h-4zM1056 681h1v1h-1zM1072 681h2v1h-2zM10 682h1v1h-1zM168 682h2v1h-2zM290 682h1v1h-1zM295 682h2v1h-2zM342 682h3v1h-3zM366 682h3v1h-3zM382 682h3v1h-3zM436 682h1v1h-1zM476 682h1v1h-1zM571 682h1v1h-1zM574 682h3v1h-3zM584 682h2v1h-2zM593 682h2v1h-2zM628 682h2v1h-2zM717 682h1v1h-1zM961 682h2v1h-2zM985 682h5v1h-5zM1033 682h8v1h-8zM1057 682h1v1h-1zM1070 682h2v1h-2zM10 683h1v1h-1zM166 683h2v1h-2zM291 683h1v1h-1zM294 683h1v1h-1zM345 683h2v1h-2zM364 683h2v1h-2zM385 683h2v1h-2zM393 683h8v1h-8zM435 683h1v1h-1zM437 683h1v1h-1zM476 683h1v1h-1zM572 683h2v1h-2zM586 683h2v1h-2zM590 683h3v1h-3zM718 683h1v1h-1zM960 683h1v1h-1zM990 683h3v1h-3zM1025 683h8v1h-8zM1057 683h1v1h-1zM1068 683h2v1h-2zM11 684h1v1h-1zM161 684h5v1h-5zM291 684h1v1h-1zM293 684h1v1h-1zM347 684h3v1h-3zM362 684h2v1h-2zM387 684h6v1h-6zM401 684h5v1h-5zM435 684h1v1h-1zM438 684h1v1h-1zM475 684h1v1h-1zM588 684h2v1h-2zM719 684h1v1h-1zM907 684h4v1h-4zM959 684h1v1h-1zM993 684h2v1h-2zM1019 684h6v1h-6zM1058 684h1v1h-1zM1066 684h2v1h-2zM11 685h1v1h-1zM140 685h1v1h-1zM156 685h5v1h-5zM292 685h1v1h-1zM350 685h3v1h-3zM360 685h2v1h-2zM406 685h2v1h-2zM434 685h1v1h-1zM439 685h1v1h-1zM474 685h1v1h-1zM720 685h1v1h-1zM903 685h4v1h-4zM911 685h4v1h-4zM957 685h2v1h-2zM995 685h6v1h-6zM1017 685h2v1h-2zM1059 685h1v1h-1zM1064 685h2v1h-2zM12 686h3v1h-3zM139 686h1v1h-1zM141 686h1v1h-1zM155 686h1v1h-1zM353 686h2v1h-2zM358 686h2v1h-2zM408 686h2v1h-2zM433 686h1v1h-1zM440 686h1v1h-1zM474 686h1v1h-1zM720 686h1v1h-1zM900 686h3v1h-3zM915 686h2v1h-2zM956 686h1v1h-1zM1001 686h8v1h-8zM1014 686h3v1h-3zM1059 686h1v1h-1zM1062 686h2v1h-2zM15 687h4v1h-4zM138 687h1v1h-1zM142 687h1v1h-1zM154 687h1v1h-1zM355 687h3v1h-3zM410 687h2v1h-2zM432 687h1v1h-1zM441 687h1v1h-1zM473 687h1v1h-1zM721 687h1v1h-1zM899 687h1v1h-1zM917 687h2v1h-2zM955 687h1v1h-1zM1009 687h5v1h-5zM1060 687h2v1h-2zM19 688h3v1h-3zM137 688h1v1h-1zM143 688h2v1h-2zM153 688h1v1h-1zM412 688h9v1h-9zM432 688h1v1h-1zM442 688h1v1h-1zM472 688h1v1h-1zM722 688h1v1h-1zM898 688h1v1h-1zM919 688h2v1h-2zM954 688h1v1h-1zM22 689h3v1h-3zM136 689h1v1h-1zM145 689h1v1h-1zM151 689h2v1h-2zM421 689h2v1h-2zM431 689h1v1h-1zM443 689h1v1h-1zM471 689h1v1h-1zM723 689h1v1h-1zM897 689h1v1h-1zM921 689h1v1h-1zM953 689h1v1h-1zM25 690h2v1h-2zM136 690h1v1h-1zM146 690h1v1h-1zM150 690h1v1h-1zM423 690h2v1h-2zM430 690h1v1h-1zM444 690h10v1h-10zM470 690h1v1h-1zM723 690h1v1h-1zM896 690h1v1h-1zM922 690h2v1h-2zM929 690h5v1h-5zM952 690h1v1h-1zM27 691h2v1h-2zM108 691h3v1h-3zM135 691h1v1h-1zM147 691h1v1h-1zM149 691h1v1h-1zM425 691h1v1h-1zM429 691h1v1h-1zM454 691h3v1h-3zM470 691h1v1h-1zM724 691h1v1h-1zM896 691h1v1h-1zM924 691h5v1h-5zM934 691h3v1h-3zM951 691h1v1h-1zM29 692h2v1h-2zM107 692h1v1h-1zM111 692h4v1h-4zM134 692h1v1h-1zM148 692h1v1h-1zM426 692h2v1h-2zM429 692h1v1h-1zM457 692h2v1h-2zM469 692h1v1h-1zM725 692h1v1h-1zM895 692h1v1h-1zM937 692h2v1h-2zM950 692h1v1h-1zM31 693h2v1h-2zM106 693h1v1h-1zM115 693h4v1h-4zM133 693h1v1h-1zM428 693h1v1h-1zM459 693h10v1h-10zM725 693h1v1h-1zM876 693h5v1h-5zM894 693h1v1h-1zM939 693h6v1h-6zM949 693h1v1h-1zM33 694h1v1h-1zM106 694h1v1h-1zM119 694h4v1h-4zM129 694h4v1h-4zM726 694h1v1h-1zM874 694h2v1h-2zM881 694h8v1h-8zM893 694h1v1h-1zM945 694h4v1h-4zM34 695h2v1h-2zM105 695h1v1h-1zM123 695h6v1h-6zM727 695h1v1h-1zM872 695h2v1h-2zM889 695h4v1h-4zM36 696h2v1h-2zM104 696h1v1h-1zM727 696h1v1h-1zM870 696h2v1h-2zM38 697h2v1h-2zM92 697h2v1h-2zM103 697h1v1h-1zM728 697h1v1h-1zM868 697h2v1h-2zM40 698h2v1h-2zM90 698h2v1h-2zM94 698h2v1h-2zM102 698h1v1h-1zM729 698h1v1h-1zM866 698h2v1h-2zM42 699h2v1h-2zM89 699h1v1h-1zM96 699h2v1h-2zM102 699h1v1h-1zM729 699h1v1h-1zM864 699h2v1h-2zM44 700h1v1h-1zM75 700h4v1h-4zM87 700h2v1h-2zM98 700h2v1h-2zM101 700h1v1h-1zM730 700h1v1h-1zM739 700h3v1h-3zM862 700h2v1h-2zM45 701h2v1h-2zM71 701h4v1h-4zM79 701h4v1h-4zM85 701h2v1h-2zM100 701h1v1h-1zM731 701h1v1h-1zM737 701h2v1h-2zM742 701h2v1h-2zM860 701h2v1h-2zM47 702h2v1h-2zM68 702h3v1h-3zM83 702h2v1h-2zM731 702h1v1h-1zM734 702h3v1h-3zM744 702h2v1h-2zM858 702h2v1h-2zM49 703h1v1h-1zM66 703h2v1h-2zM732 703h2v1h-2zM746 703h2v1h-2zM856 703h2v1h-2zM50 704h2v1h-2zM65 704h1v1h-1zM748 704h2v1h-2zM854 704h2v1h-2zM52 705h3v1h-3zM63 705h2v1h-2zM750 705h3v1h-3zM851 705h3v1h-3zM55 706h4v1h-4zM61 706h2v1h-2zM753 706h2v1h-2zM761 706h4v1h-4zM835 706h4v1h-4zM849 706h2v1h-2zM59 707h2v1h-2zM755 707h6v1h-6zM765 707h1v1h-1zM795 707h4v1h-4zM833 707h2v1h-2zM839 707h4v1h-4zM846 707h3v1h-3zM766 708h1v1h-1zM791 708h4v1h-4zM799 708h4v1h-4zM830 708h3v1h-3zM843 708h3v1h-3zM767 709h2v1h-2zM788 709h3v1h-3zM803 709h2v1h-2zM828 709h2v1h-2zM769 710h1v1h-1zM787 710h1v1h-1zM805 710h2v1h-2zM827 710h1v1h-1zM770 711h1v1h-1zM785 711h2v1h-2zM807 711h2v1h-2zM825 711h2v1h-2zM771 712h1v1h-1zM784 712h1v1h-1zM809 712h1v1h-1zM824 712h1v1h-1zM772 713h3v1h-3zM783 713h1v1h-1zM810 713h2v1h-2zM823 713h1v1h-1zM775 714h4v1h-4zM781 714h2v1h-2zM812 714h5v1h-5zM821 714h2v1h-2zM779 715h2v1h-2zM817 715h4v1h-4z" fill="#1e90ff"/>
<text transform="translate(8.2 642) scale(0.9310 1)" fill="#000" stroke="#000" stroke-width="0.22" font-size="10" text-rendering="geometricPrecision">RSI(14) 67.6055</text>
<text transform="translate(1482.8 640) scale(0.8970 1)" fill="#000" stroke="#000" stroke-width="0.22" font-size="10" text-rendering="geometricPrecision">100</text>
<text transform="translate(1482.8 667) scale(0.8970 1)" fill="#000" stroke="#000" stroke-width="0.22" font-size="10" text-rendering="geometricPrecision">70</text>
<text transform="translate(1482.8 711) scale(0.8970 1)" fill="#000" stroke="#000" stroke-width="0.22" font-size="10" text-rendering="geometricPrecision">30</text>
<text transform="translate(1482.8 738) scale(0.8970 1)" fill="#000" stroke="#000" stroke-width="0.22" font-size="10" text-rendering="geometricPrecision">0</text>
<rect x="4" y="742" width="1" height="3" fill="#000"/>
<text transform="translate(3 754) scale(0.9200 1)" fill="#000" stroke="#000" stroke-width="0.22" font-size="10" text-rendering="geometricPrecision">5 Jan 2022</text>
<rect x="68" y="742" width="1" height="3" fill="#000"/>
<text transform="translate(67 754) scale(0.9200 1)" fill="#000" stroke="#000" stroke-width="0.22" font-size="10" text-rendering="geometricPrecision">6 Jan 20:00</text>
<rect x="132" y="742" width="1" height="3" fill="#000"/>
<text transform="translate(131 754) scale(0.9200 1)" fill="#000" stroke="#000" stroke-width="0.22" font-size="10" text-rendering="geometricPrecision">10 Jan 04:00</text>
<rect x="196" y="742" width="1" height="3" fill="#000"/>
<text transform="translate(195 754) scale(0.9200 1)" fill="#000" stroke="#000" stroke-width="0.22" font-size="10" text-rendering="geometricPrecision">11 Jan 12:00</text>
<rect x="260" y="742" width="1" height="3" fill="#000"/>
<text transform="translate(259 754) scale(0.9200 1)" fill="#000" stroke="#000" stroke-width="0.22" font-size="10" text-rendering="geometricPrecision">12 Jan 20:00</text>
<rect x="324" y="742" width="1" height="3" fill="#000"/>
<text transform="translate(323 754) scale(0.9200 1)" fill="#000" stroke="#000" stroke-width="0.22" font-size="10" text-rendering="geometricPrecision">14 Jan 04:00</text>
<rect x="388" y="742" width="1" height="3" fill="#000"/>
<text transform="translate(387 754) scale(0.9200 1)" fill="#000" stroke="#000" stroke-width="0.22" font-size="10" text-rendering="geometricPrecision">17 Jan 12:00</text>
<rect x="452" y="742" width="1" height="3" fill="#000"/>
<text transform="translate(451 754) scale(0.9200 1)" fill="#000" stroke="#000" stroke-width="0.22" font-size="10" text-rendering="geometricPrecision">18 Jan 20:00</text>
<rect x="516" y="742" width="1" height="3" fill="#000"/>
<text transform="translate(515 754) scale(0.9200 1)" fill="#000" stroke="#000" stroke-width="0.22" font-size="10" text-rendering="geometricPrecision">20 Jan 04:00</text>
<rect x="580" y="742" width="1" height="3" fill="#000"/>
<text transform="translate(579 754) scale(0.9200 1)" fill="#000" stroke="#000" stroke-width="0.22" font-size="10" text-rendering="geometricPrecision">21 Jan 12:00</text>
<rect x="644" y="742" width="1" height="3" fill="#000"/>
<text transform="translate(643 754) scale(0.9200 1)" fill="#000" stroke="#000" stroke-width="0.22" font-size="10" text-rendering="geometricPrecision">24 Jan 20:00</text>
<rect x="708" y="742" width="1" height="3" fill="#000"/>
<text transform="translate(707 754) scale(0.9200 1)" fill="#000" stroke="#000" stroke-width="0.22" font-size="10" text-rendering="geometricPrecision">26 Jan 04:00</text>
<rect x="772" y="742" width="1" height="3" fill="#000"/>
<text transform="translate(771 754) scale(0.9200 1)" fill="#000" stroke="#000" stroke-width="0.22" font-size="10" text-rendering="geometricPrecision">27 Jan 12:00</text>
<rect x="836" y="742" width="1" height="3" fill="#000"/>
<text transform="translate(835 754) scale(0.9200 1)" fill="#000" stroke="#000" stroke-width="0.22" font-size="10" text-rendering="geometricPrecision">30 Jan 23:00</text>
<rect x="900" y="742" width="1" height="3" fill="#000"/>
<text transform="translate(899 754) scale(0.9200 1)" fill="#000" stroke="#000" stroke-width="0.22" font-size="10" text-rendering="geometricPrecision">1 Feb 04:00</text>
<rect x="964" y="742" width="1" height="3" fill="#000"/>
<text transform="translate(963 754) scale(0.9200 1)" fill="#000" stroke="#000" stroke-width="0.22" font-size="10" text-rendering="geometricPrecision">2 Feb 12:00</text>
<rect x="1028" y="742" width="1" height="3" fill="#000"/>
<text transform="translate(1027 754) scale(0.9200 1)" fill="#000" stroke="#000" stroke-width="0.22" font-size="10" text-rendering="geometricPrecision">3 Feb 20:00</text>
<rect x="1092" y="742" width="1" height="3" fill="#000"/>
<text transform="translate(1091 754) scale(0.9200 1)" fill="#000" stroke="#000" stroke-width="0.22" font-size="10" text-rendering="geometricPrecision">7 Feb 04:00</text>
<rect x="1156" y="742" width="1" height="3" fill="#000"/>
<text transform="translate(1155 754) scale(0.9200 1)" fill="#000" stroke="#000" stroke-width="0.22" font-size="10" text-rendering="geometricPrecision">8 Feb 12:00</text>
</svg>
</body></html>
